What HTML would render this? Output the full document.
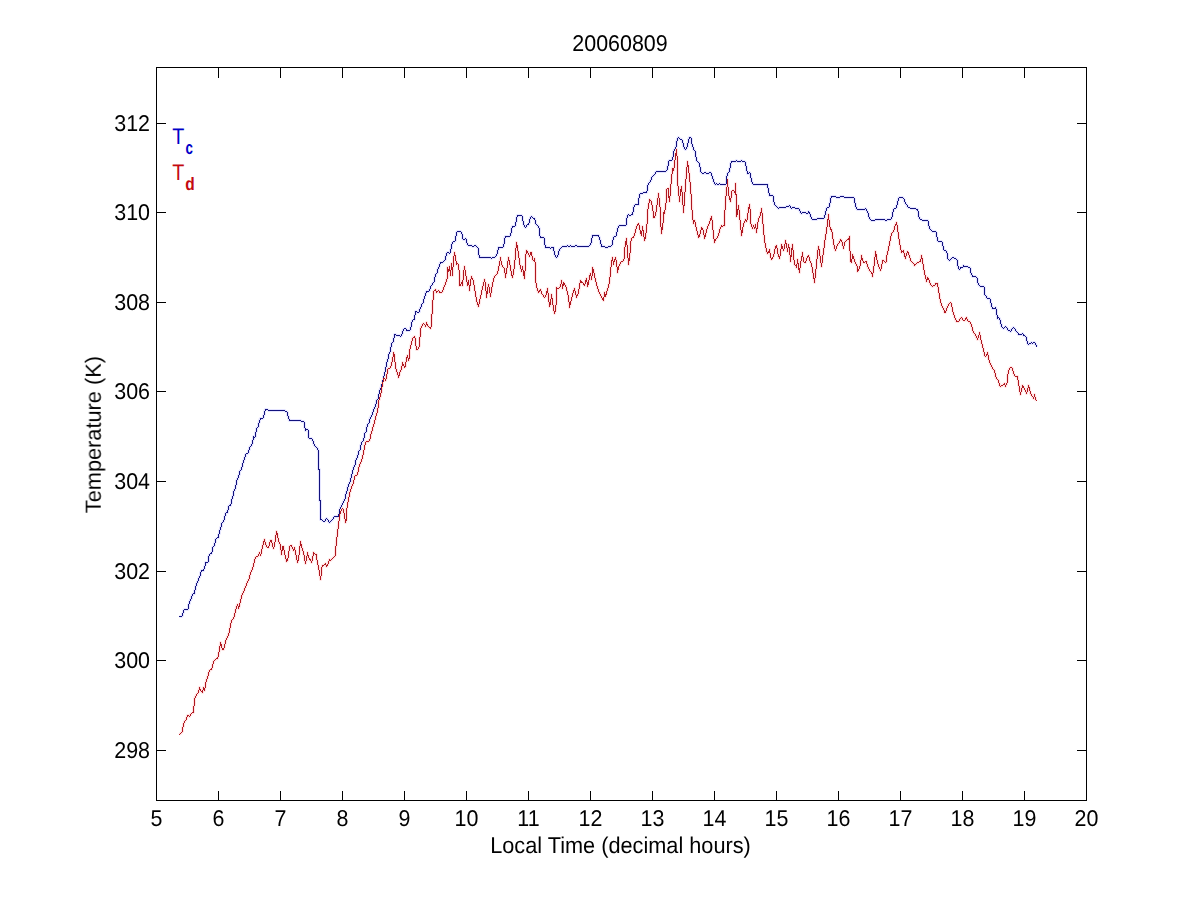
<!DOCTYPE html>
<html><head><meta charset="utf-8"><style>html,body{margin:0;padding:0;background:#fff;width:1200px;height:900px;overflow:hidden}svg{display:block}text{-webkit-font-smoothing:antialiased}</style></head>
<body><svg width="1200" height="900" viewBox="0 0 1200 900">
<rect x="0" y="0" width="1200" height="900" fill="#fff"/>
<g stroke="#000" stroke-width="1" shape-rendering="crispEdges" fill="none">
<path d="M156.5,67.5H1086.5V800.5H156.5Z"/>
</g>
<g fill="#000" shape-rendering="crispEdges">
<rect x="156" y="791" width="1" height="10"/><rect x="156" y="67" width="1" height="11"/>
<rect x="218" y="791" width="1" height="10"/><rect x="218" y="67" width="1" height="11"/>
<rect x="280" y="791" width="1" height="10"/><rect x="280" y="67" width="1" height="11"/>
<rect x="342" y="791" width="1" height="10"/><rect x="342" y="67" width="1" height="11"/>
<rect x="404" y="791" width="1" height="10"/><rect x="404" y="67" width="1" height="11"/>
<rect x="466" y="791" width="1" height="10"/><rect x="466" y="67" width="1" height="11"/>
<rect x="528" y="791" width="1" height="10"/><rect x="528" y="67" width="1" height="11"/>
<rect x="590" y="791" width="1" height="10"/><rect x="590" y="67" width="1" height="11"/>
<rect x="652" y="791" width="1" height="10"/><rect x="652" y="67" width="1" height="11"/>
<rect x="714" y="791" width="1" height="10"/><rect x="714" y="67" width="1" height="11"/>
<rect x="776" y="791" width="1" height="10"/><rect x="776" y="67" width="1" height="11"/>
<rect x="838" y="791" width="1" height="10"/><rect x="838" y="67" width="1" height="11"/>
<rect x="900" y="791" width="1" height="10"/><rect x="900" y="67" width="1" height="11"/>
<rect x="962" y="791" width="1" height="10"/><rect x="962" y="67" width="1" height="11"/>
<rect x="1024" y="791" width="1" height="10"/><rect x="1024" y="67" width="1" height="11"/>
<rect x="1086" y="791" width="1" height="10"/><rect x="1086" y="67" width="1" height="11"/>
<rect x="156" y="750" width="10" height="1"/><rect x="1077" y="750" width="10" height="1"/>
<rect x="156" y="660" width="10" height="1"/><rect x="1077" y="660" width="10" height="1"/>
<rect x="156" y="571" width="10" height="1"/><rect x="1077" y="571" width="10" height="1"/>
<rect x="156" y="481" width="10" height="1"/><rect x="1077" y="481" width="10" height="1"/>
<rect x="156" y="391" width="10" height="1"/><rect x="1077" y="391" width="10" height="1"/>
<rect x="156" y="302" width="10" height="1"/><rect x="1077" y="302" width="10" height="1"/>
<rect x="156" y="212" width="10" height="1"/><rect x="1077" y="212" width="10" height="1"/>
<rect x="156" y="123" width="10" height="1"/><rect x="1077" y="123" width="10" height="1"/>
</g>
<g fill="none" stroke-width="3" stroke-linejoin="round" opacity="0.12">
<polyline stroke="#3030ff" points="179.5,616.5 181.5,616.5 182.5,615.5 182.5,613.5 183.5,612.5 183.5,610.5 184.5,609.5 187.5,609.5 188.5,608.5 188.5,606.5 188.5,604.5 189.5,603.5 189.5,601.5 190.5,600.5 190.5,599.5 191.5,598.5 191.5,596.5 192.5,595.5 192.5,594.5 193.5,593.5 194.5,593.5 194.5,590.5 195.5,589.5 195.5,586.5 196.5,585.5 196.5,583.5 197.5,582.5 197.5,581.5 198.5,580.5 198.5,578.5 199.5,577.5 199.5,576.5 200.5,575.5 200.5,572.5 201.5,571.5 201.5,570.5 203.5,570.5 203.5,569.5 204.5,568.5 204.5,566.5 205.5,564.5 205.5,562.5 207.5,562.5 208.5,561.5 208.5,556.5 209.5,555.5 209.5,554.5 211.5,553.5 211.5,552.5 212.5,550.5 212.5,547.5 213.5,546.5 214.5,545.5 214.5,543.5 215.5,541.5 215.5,539.5 216.5,538.5 218.5,537.5 218.5,534.5 219.5,533.5 219.5,530.5 220.5,529.5 220.5,527.5 221.5,526.5 221.5,523.5 222.5,522.5 223.5,521.5 223.5,520.5 224.5,519.5 224.5,516.5 225.5,515.5 225.5,513.5 226.5,512.5 227.5,512.5 227.5,510.5 228.5,509.5 228.5,506.5 229.5,505.5 230.5,505.5 230.5,504.5 231.5,502.5 231.5,499.5 232.5,498.5 232.5,496.5 233.5,495.5 233.5,491.5 234.5,490.5 234.5,489.5 235.5,488.5 235.5,485.5 236.5,484.5 236.5,480.5 237.5,479.5 237.5,478.5 238.5,477.5 238.5,475.5 239.5,474.5 239.5,471.5 240.5,470.5 241.5,469.5 241.5,467.5 242.5,466.5 242.5,463.5 243.5,462.5 243.5,460.5 244.5,459.5 244.5,457.5 245.5,456.5 245.5,454.5 247.5,453.5 248.5,452.5 248.5,450.5 249.5,449.5 249.5,447.5 250.5,446.5 251.5,445.5 251.5,444.5 252.5,443.5 252.5,440.5 253.5,439.5 253.5,436.5 254.5,437.5 255.5,436.5 255.5,432.5 256.5,431.5 256.5,428.5 257.5,427.5 258.5,426.5 258.5,423.5 259.5,421.5 259.5,420.5 260.5,418.5 262.5,418.5 263.5,417.5 263.5,415.5 264.5,414.5 264.5,411.5 265.5,409.5 267.5,409.5 268.5,410.5 284.5,410.5 285.5,411.5 286.5,411.5 287.5,412.5 287.5,415.5 288.5,416.5 288.5,418.5 289.5,420.5 300.5,420.5 301.5,421.5 303.5,421.5 304.5,423.5 304.5,427.5 305.5,428.5 305.5,430.5 306.5,429.5 307.5,429.5 308.5,431.5 308.5,437.5 309.5,438.5 311.5,438.5 312.5,440.5 313.5,441.5 313.5,443.5 314.5,445.5 315.5,446.5 316.5,447.5 317.5,448.5 318.5,451.5 318.5,469.5 319.5,469.5 319.5,500.5 320.5,500.5 320.5,519.5 321.5,519.5 322.5,520.5 324.5,521.5 326.5,518.5 329.5,522.5 332.5,519.5 334.5,516.5 338.5,516.5 339.5,510.5 341.5,505.5 343.5,501.5 344.5,499.5 345.5,497.5 345.5,494.5 346.5,493.5 346.5,491.5 347.5,490.5 347.5,487.5 348.5,485.5 348.5,484.5 349.5,483.5 349.5,482.5 350.5,481.5 350.5,478.5 351.5,477.5 351.5,474.5 352.5,473.5 352.5,470.5 353.5,469.5 353.5,467.5 354.5,466.5 354.5,465.5 355.5,464.5 355.5,460.5 356.5,459.5 356.5,458.5 357.5,457.5 357.5,455.5 358.5,453.5 358.5,451.5 359.5,450.5 360.5,448.5 360.5,445.5 361.5,444.5 361.5,442.5 362.5,441.5 363.5,440.5 363.5,438.5 364.5,437.5 364.5,433.5 365.5,432.5 366.5,430.5 366.5,427.5 367.5,425.5 367.5,424.5 368.5,423.5 369.5,421.5 369.5,419.5 370.5,417.5 371.5,415.5 372.5,414.5 372.5,412.5 373.5,410.5 373.5,409.5 374.5,408.5 374.5,407.5 375.5,406.5 375.5,404.5 376.5,402.5 376.5,400.5 377.5,399.5 378.5,397.5 378.5,394.5 379.5,393.5 379.5,390.5 380.5,389.5 380.5,388.5 381.5,386.5 381.5,384.5 382.5,383.5 382.5,380.5 383.5,379.5 383.5,376.5 384.5,375.5 384.5,372.5 385.5,371.5 385.5,367.5 386.5,366.5 386.5,362.5 387.5,361.5 387.5,359.5 388.5,358.5 388.5,354.5 389.5,353.5 389.5,352.5 390.5,351.5 390.5,347.5 391.5,346.5 391.5,343.5 392.5,342.5 393.5,341.5 393.5,338.5 394.5,336.5 394.5,334.5 395.5,334.5 397.5,335.5 399.5,335.5 400.5,336.5 401.5,335.5 401.5,334.5 402.5,333.5 402.5,331.5 403.5,329.5 405.5,328.5 406.5,330.5 409.5,330.5 410.5,329.5 410.5,327.5 411.5,325.5 411.5,322.5 412.5,320.5 414.5,319.5 414.5,315.5 415.5,314.5 415.5,311.5 416.5,311.5 418.5,312.5 419.5,311.5 419.5,309.5 420.5,308.5 420.5,307.5 421.5,306.5 421.5,304.5 422.5,303.5 423.5,302.5 423.5,299.5 424.5,298.5 424.5,296.5 425.5,295.5 425.5,293.5 426.5,291.5 428.5,291.5 429.5,290.5 429.5,289.5 430.5,288.5 430.5,286.5 431.5,285.5 432.5,284.5 432.5,283.5 433.5,282.5 434.5,280.5 434.5,277.5 435.5,276.5 435.5,274.5 436.5,273.5 437.5,272.5 437.5,269.5 438.5,268.5 439.5,264.5 440.5,262.5 442.5,262.5 443.5,261.5 444.5,260.5 445.5,259.5 445.5,256.5 446.5,255.5 446.5,253.5 447.5,252.5 448.5,252.5 449.5,253.5 450.5,251.5 450.5,249.5 451.5,248.5 451.5,244.5 452.5,243.5 452.5,242.5 454.5,241.5 455.5,240.5 455.5,236.5 456.5,235.5 456.5,232.5 457.5,231.5 460.5,231.5 461.5,232.5 461.5,233.5 462.5,235.5 462.5,238.5 463.5,239.5 464.5,239.5 465.5,238.5 466.5,240.5 466.5,242.5 467.5,243.5 467.5,244.5 468.5,245.5 471.5,245.5 472.5,246.5 473.5,246.5 475.5,245.5 476.5,246.5 477.5,247.5 478.5,249.5 478.5,254.5 479.5,256.5 479.5,257.5 480.5,257.5 482.5,257.5 483.5,257.5 490.5,257.5 491.5,258.5 492.5,257.5 494.5,257.5 495.5,256.5 496.5,254.5 497.5,253.5 497.5,250.5 498.5,249.5 498.5,247.5 502.5,247.5 503.5,246.5 503.5,244.5 504.5,242.5 504.5,238.5 505.5,236.5 509.5,236.5 510.5,235.5 510.5,233.5 511.5,232.5 511.5,228.5 512.5,226.5 514.5,226.5 515.5,225.5 515.5,222.5 516.5,221.5 516.5,218.5 517.5,215.5 521.5,215.5 522.5,217.5 522.5,220.5 523.5,221.5 523.5,224.5 524.5,225.5 524.5,226.5 525.5,227.5 526.5,226.5 526.5,225.5 528.5,224.5 528.5,223.5 529.5,222.5 529.5,219.5 530.5,218.5 530.5,217.5 531.5,216.5 532.5,217.5 534.5,218.5 535.5,221.5 535.5,223.5 536.5,224.5 537.5,225.5 538.5,226.5 538.5,227.5 539.5,228.5 539.5,235.5 540.5,236.5 540.5,237.5 543.5,237.5 544.5,239.5 544.5,244.5 545.5,245.5 545.5,247.5 546.5,247.5 547.5,247.5 548.5,247.5 549.5,247.5 550.5,248.5 551.5,247.5 553.5,247.5 553.5,248.5 553.5,250.5 554.5,251.5 554.5,254.5 555.5,255.5 555.5,256.5 556.5,257.5 557.5,256.5 557.5,255.5 558.5,254.5 558.5,251.5 559.5,250.5 559.5,249.5 560.5,248.5 561.5,247.5 562.5,246.5 566.5,246.5 567.5,245.5 568.5,246.5 569.5,246.5 570.5,245.5 571.5,246.5 574.5,246.5 575.5,245.5 576.5,245.5 577.5,246.5 588.5,246.5 589.5,245.5 590.5,244.5 590.5,243.5 591.5,242.5 591.5,239.5 592.5,235.5 597.5,235.5 598.5,235.5 598.5,236.5 599.5,237.5 599.5,239.5 600.5,240.5 600.5,243.5 601.5,244.5 601.5,246.5 604.5,246.5 605.5,247.5 607.5,247.5 608.5,246.5 610.5,246.5 611.5,245.5 612.5,243.5 612.5,240.5 613.5,238.5 613.5,237.5 614.5,236.5 615.5,236.5 616.5,234.5 616.5,232.5 617.5,230.5 617.5,228.5 618.5,227.5 618.5,226.5 619.5,225.5 625.5,225.5 626.5,224.5 626.5,218.5 627.5,216.5 627.5,215.5 628.5,214.5 629.5,215.5 630.5,215.5 631.5,214.5 632.5,214.5 632.5,212.5 633.5,211.5 633.5,207.5 634.5,205.5 635.5,204.5 638.5,204.5 638.5,198.5 639.5,197.5 639.5,194.5 640.5,193.5 642.5,193.5 643.5,192.5 646.5,192.5 647.5,189.5 647.5,185.5 648.5,184.5 648.5,183.5 649.5,182.5 650.5,180.5 651.5,179.5 651.5,177.5 652.5,176.5 654.5,174.5 655.5,172.5 656.5,171.5 665.5,171.5 666.5,170.5 667.5,168.5 667.5,166.5 668.5,164.5 668.5,161.5 669.5,160.5 671.5,160.5 672.5,159.5 672.5,157.5 673.5,155.5 673.5,151.5 674.5,149.5 675.5,148.5 675.5,147.5 676.5,145.5 676.5,141.5 677.5,139.5 677.5,138.5 678.5,137.5 679.5,138.5 681.5,139.5 682.5,141.5 682.5,142.5 683.5,144.5 683.5,146.5 684.5,147.5 684.5,148.5 685.5,149.5 686.5,148.5 686.5,147.5 687.5,146.5 687.5,143.5 688.5,142.5 688.5,139.5 689.5,137.5 690.5,137.5 691.5,139.5 691.5,143.5 692.5,145.5 692.5,146.5 693.5,148.5 693.5,149.5 694.5,150.5 695.5,152.5 695.5,156.5 696.5,158.5 696.5,160.5 697.5,161.5 698.5,162.5 699.5,163.5 699.5,166.5 700.5,167.5 700.5,171.5 701.5,172.5 702.5,173.5 703.5,173.5 705.5,172.5 706.5,173.5 708.5,173.5 709.5,172.5 710.5,172.5 711.5,174.5 711.5,175.5 712.5,176.5 712.5,178.5 713.5,179.5 713.5,181.5 714.5,182.5 714.5,183.5 715.5,184.5 716.5,183.5 717.5,184.5 718.5,184.5 719.5,183.5 720.5,184.5 725.5,184.5 726.5,183.5 726.5,176.5 727.5,175.5 727.5,173.5 728.5,172.5 729.5,171.5 729.5,168.5 730.5,167.5 730.5,163.5 731.5,162.5 731.5,161.5 735.5,161.5 736.5,160.5 737.5,161.5 740.5,161.5 741.5,160.5 742.5,161.5 744.5,161.5 745.5,162.5 745.5,165.5 746.5,166.5 746.5,170.5 747.5,171.5 747.5,173.5 748.5,173.5 749.5,172.5 750.5,174.5 750.5,177.5 751.5,178.5 751.5,181.5 752.5,182.5 752.5,183.5 753.5,184.5 763.5,184.5 767.5,184.5 767.5,187.5 768.5,188.5 768.5,192.5 769.5,194.5 769.5,195.5 772.5,195.5 773.5,197.5 773.5,201.5 774.5,203.5 774.5,204.5 775.5,205.5 776.5,206.5 777.5,207.5 778.5,208.5 779.5,207.5 785.5,207.5 786.5,206.5 788.5,206.5 789.5,205.5 790.5,207.5 791.5,208.5 792.5,207.5 794.5,207.5 795.5,208.5 798.5,208.5 799.5,210.5 800.5,211.5 800.5,212.5 801.5,213.5 802.5,212.5 805.5,212.5 806.5,213.5 807.5,213.5 808.5,211.5 809.5,213.5 810.5,215.5 810.5,216.5 811.5,217.5 811.5,218.5 812.5,219.5 816.5,219.5 817.5,218.5 823.5,218.5 824.5,217.5 824.5,215.5 825.5,214.5 825.5,211.5 826.5,209.5 826.5,208.5 827.5,207.5 828.5,207.5 829.5,205.5 829.5,203.5 830.5,202.5 830.5,198.5 831.5,196.5 832.5,196.5 835.5,196.5 836.5,197.5 839.5,197.5 840.5,196.5 843.5,196.5 844.5,197.5 853.5,197.5 854.5,199.5 854.5,202.5 855.5,203.5 855.5,206.5 856.5,207.5 856.5,208.5 857.5,209.5 864.5,209.5 865.5,208.5 866.5,210.5 867.5,211.5 867.5,212.5 868.5,213.5 868.5,216.5 869.5,217.5 869.5,218.5 870.5,219.5 871.5,220.5 874.5,220.5 875.5,219.5 884.5,219.5 885.5,220.5 886.5,220.5 887.5,219.5 890.5,219.5 891.5,218.5 891.5,217.5 892.5,215.5 892.5,212.5 893.5,210.5 893.5,209.5 894.5,208.5 895.5,208.5 896.5,207.5 896.5,205.5 897.5,204.5 897.5,201.5 898.5,199.5 898.5,198.5 899.5,197.5 900.5,197.5 901.5,197.5 902.5,197.5 903.5,198.5 904.5,200.5 904.5,201.5 905.5,203.5 906.5,204.5 907.5,206.5 908.5,207.5 909.5,207.5 911.5,208.5 915.5,208.5 916.5,209.5 917.5,209.5 918.5,213.5 918.5,216.5 919.5,217.5 919.5,218.5 920.5,219.5 921.5,219.5 922.5,220.5 927.5,220.5 928.5,222.5 928.5,225.5 929.5,227.5 929.5,228.5 930.5,229.5 931.5,230.5 932.5,231.5 935.5,231.5 936.5,233.5 936.5,236.5 937.5,238.5 937.5,240.5 938.5,241.5 941.5,241.5 942.5,243.5 942.5,245.5 943.5,247.5 943.5,249.5 944.5,250.5 945.5,250.5 946.5,251.5 946.5,252.5 947.5,254.5 947.5,258.5 948.5,259.5 949.5,260.5 950.5,259.5 951.5,258.5 953.5,257.5 955.5,258.5 956.5,259.5 957.5,260.5 957.5,265.5 958.5,267.5 958.5,268.5 959.5,269.5 960.5,267.5 962.5,267.5 963.5,265.5 964.5,266.5 967.5,266.5 968.5,267.5 969.5,267.5 970.5,268.5 970.5,272.5 971.5,273.5 971.5,274.5 972.5,276.5 975.5,276.5 976.5,277.5 977.5,279.5 977.5,282.5 978.5,283.5 978.5,284.5 979.5,285.5 980.5,286.5 983.5,286.5 984.5,288.5 984.5,294.5 985.5,295.5 986.5,296.5 986.5,297.5 987.5,298.5 989.5,298.5 990.5,300.5 990.5,302.5 991.5,304.5 991.5,306.5 992.5,307.5 992.5,308.5 994.5,308.5 995.5,307.5 996.5,310.5 996.5,314.5 997.5,316.5 997.5,318.5 998.5,317.5 999.5,318.5 999.5,319.5 1000.5,320.5 1000.5,323.5 1001.5,324.5 1001.5,326.5 1002.5,327.5 1003.5,328.5 1004.5,327.5 1005.5,326.5 1006.5,327.5 1007.5,329.5 1008.5,330.5 1009.5,330.5 1010.5,331.5 1011.5,329.5 1012.5,328.5 1013.5,327.5 1014.5,328.5 1015.5,330.5 1016.5,331.5 1017.5,332.5 1018.5,334.5 1021.5,334.5 1022.5,333.5 1023.5,335.5 1024.5,335.5 1025.5,336.5 1026.5,337.5 1026.5,340.5 1027.5,341.5 1027.5,343.5 1028.5,344.5 1029.5,343.5 1030.5,343.5 1031.5,342.5 1032.5,343.5 1033.5,342.5 1034.5,342.5 1035.5,344.5 1036.5,345.5 1036.5,346.5"/>
<polyline stroke="#ff2020" points="179.5,734.5 181.5,732.5 182.5,731.5 182.5,727.5 183.5,726.5 183.5,724.5 184.5,721.5 185.5,720.5 186.5,718.5 187.5,715.5 188.5,715.5 189.5,716.5 190.5,714.5 191.5,713.5 193.5,712.5 193.5,707.5 194.5,703.5 194.5,698.5 195.5,696.5 196.5,694.5 197.5,693.5 198.5,691.5 199.5,687.5 200.5,690.5 201.5,691.5 202.5,692.5 203.5,687.5 204.5,690.5 205.5,684.5 206.5,679.5 207.5,677.5 208.5,673.5 209.5,670.5 211.5,669.5 212.5,665.5 213.5,661.5 215.5,659.5 217.5,658.5 218.5,654.5 219.5,648.5 220.5,642.5 221.5,646.5 222.5,649.5 223.5,649.5 224.5,646.5 225.5,641.5 227.5,636.5 228.5,634.5 229.5,630.5 230.5,625.5 231.5,620.5 233.5,618.5 234.5,615.5 235.5,610.5 236.5,606.5 237.5,604.5 238.5,608.5 239.5,605.5 240.5,600.5 241.5,596.5 243.5,591.5 244.5,589.5 245.5,586.5 246.5,584.5 247.5,581.5 249.5,578.5 249.5,576.5 250.5,572.5 252.5,568.5 253.5,565.5 254.5,560.5 255.5,557.5 257.5,556.5 258.5,555.5 259.5,552.5 260.5,555.5 261.5,551.5 262.5,546.5 263.5,542.5 264.5,539.5 265.5,544.5 266.5,546.5 268.5,547.5 269.5,543.5 270.5,540.5 271.5,540.5 272.5,545.5 273.5,548.5 274.5,544.5 275.5,538.5 276.5,531.5 277.5,535.5 278.5,541.5 280.5,545.5 281.5,554.5 282.5,546.5 283.5,546.5 284.5,553.5 285.5,556.5 286.5,561.5 287.5,560.5 288.5,555.5 289.5,546.5 291.5,545.5 292.5,548.5 293.5,550.5 294.5,547.5 295.5,552.5 296.5,558.5 297.5,562.5 298.5,558.5 299.5,550.5 300.5,541.5 301.5,546.5 302.5,549.5 303.5,552.5 304.5,558.5 305.5,563.5 306.5,558.5 307.5,552.5 308.5,557.5 309.5,559.5 310.5,559.5 311.5,562.5 312.5,558.5 313.5,552.5 314.5,553.5 316.5,554.5 316.5,558.5 317.5,562.5 318.5,567.5 319.5,572.5 320.5,579.5 321.5,572.5 321.5,568.5 322.5,565.5 323.5,565.5 325.5,563.5 326.5,566.5 327.5,564.5 328.5,562.5 329.5,559.5 330.5,560.5 331.5,559.5 333.5,557.5 334.5,556.5 335.5,554.5 335.5,550.5 336.5,540.5 337.5,532.5 338.5,524.5 339.5,516.5 340.5,511.5 341.5,509.5 342.5,508.5 343.5,510.5 344.5,516.5 345.5,522.5 346.5,518.5 346.5,510.5 347.5,504.5 348.5,499.5 348.5,498.5 348.5,497.5 349.5,496.5 349.5,492.5 350.5,491.5 350.5,489.5 351.5,487.5 351.5,486.5 352.5,485.5 352.5,484.5 353.5,482.5 353.5,480.5 354.5,478.5 354.5,476.5 355.5,475.5 356.5,475.5 357.5,473.5 357.5,472.5 358.5,470.5 358.5,467.5 359.5,466.5 359.5,464.5 360.5,463.5 360.5,462.5 361.5,460.5 361.5,459.5 362.5,458.5 362.5,455.5 363.5,453.5 363.5,450.5 364.5,448.5 364.5,445.5 365.5,443.5 365.5,442.5 366.5,441.5 368.5,441.5 369.5,440.5 369.5,439.5 370.5,437.5 370.5,434.5 371.5,433.5 371.5,431.5 372.5,430.5 372.5,427.5 373.5,426.5 373.5,424.5 374.5,423.5 374.5,420.5 375.5,419.5 375.5,417.5 376.5,413.5 377.5,411.5 377.5,408.5 378.5,407.5 378.5,400.5 379.5,399.5 379.5,397.5 380.5,396.5 380.5,393.5 381.5,392.5 381.5,387.5 382.5,385.5 382.5,382.5 383.5,380.5 383.5,378.5 384.5,378.5 385.5,379.5 385.5,380.5 386.5,377.5 386.5,374.5 387.5,372.5 387.5,369.5 388.5,368.5 389.5,368.5 390.5,367.5 390.5,366.5 391.5,365.5 391.5,362.5 392.5,361.5 392.5,357.5 393.5,356.5 393.5,352.5 394.5,356.5 394.5,361.5 395.5,363.5 395.5,368.5 396.5,369.5 396.5,371.5 397.5,372.5 397.5,374.5 398.5,375.5 398.5,377.5 399.5,373.5 399.5,372.5 400.5,371.5 400.5,370.5 401.5,369.5 401.5,366.5 402.5,364.5 402.5,362.5 403.5,365.5 404.5,367.5 405.5,366.5 405.5,362.5 406.5,361.5 406.5,358.5 407.5,355.5 408.5,360.5 409.5,357.5 409.5,350.5 410.5,347.5 411.5,342.5 412.5,338.5 413.5,337.5 414.5,336.5 415.5,339.5 415.5,343.5 416.5,349.5 417.5,349.5 418.5,347.5 419.5,345.5 419.5,339.5 420.5,334.5 420.5,333.5 420.5,328.5 421.5,326.5 422.5,324.5 423.5,323.5 424.5,324.5 425.5,326.5 426.5,322.5 427.5,325.5 428.5,326.5 429.5,327.5 430.5,328.5 431.5,324.5 431.5,314.5 432.5,313.5 432.5,300.5 433.5,298.5 433.5,291.5 434.5,290.5 435.5,289.5 436.5,292.5 437.5,291.5 438.5,290.5 439.5,292.5 440.5,292.5 441.5,292.5 442.5,291.5 443.5,288.5 444.5,285.5 445.5,283.5 446.5,280.5 446.5,279.5 447.5,277.5 447.5,271.5 447.5,267.5 448.5,271.5 449.5,266.5 450.5,275.5 451.5,263.5 452.5,275.5 453.5,258.5 454.5,252.5 455.5,258.5 456.5,264.5 457.5,263.5 458.5,265.5 459.5,275.5 459.5,285.5 460.5,285.5 461.5,282.5 462.5,285.5 463.5,273.5 464.5,266.5 465.5,273.5 466.5,278.5 467.5,285.5 468.5,280.5 469.5,290.5 470.5,280.5 471.5,276.5 472.5,279.5 473.5,280.5 474.5,289.5 475.5,293.5 476.5,300.5 477.5,304.5 478.5,306.5 479.5,301.5 480.5,296.5 481.5,292.5 482.5,287.5 483.5,283.5 484.5,279.5 485.5,284.5 486.5,297.5 487.5,289.5 488.5,284.5 489.5,290.5 490.5,296.5 491.5,289.5 492.5,283.5 493.5,279.5 494.5,276.5 496.5,274.5 497.5,272.5 498.5,268.5 499.5,263.5 500.5,257.5 501.5,264.5 502.5,266.5 504.5,268.5 505.5,277.5 506.5,270.5 507.5,264.5 508.5,257.5 509.5,262.5 510.5,268.5 511.5,274.5 512.5,277.5 513.5,271.5 514.5,265.5 515.5,253.5 516.5,242.5 517.5,248.5 518.5,254.5 519.5,262.5 521.5,271.5 522.5,266.5 523.5,273.5 524.5,278.5 525.5,263.5 525.5,256.5 526.5,250.5 527.5,251.5 528.5,254.5 529.5,256.5 530.5,252.5 531.5,252.5 532.5,259.5 533.5,260.5 534.5,258.5 535.5,265.5 535.5,279.5 536.5,286.5 537.5,290.5 538.5,292.5 540.5,289.5 541.5,293.5 542.5,294.5 544.5,297.5 545.5,296.5 546.5,292.5 547.5,288.5 548.5,297.5 549.5,306.5 550.5,302.5 551.5,294.5 552.5,301.5 553.5,309.5 554.5,313.5 555.5,309.5 556.5,299.5 556.5,287.5 558.5,288.5 560.5,286.5 561.5,280.5 562.5,288.5 563.5,282.5 564.5,284.5 565.5,285.5 566.5,288.5 568.5,297.5 569.5,307.5 570.5,302.5 571.5,298.5 572.5,294.5 574.5,288.5 575.5,293.5 576.5,297.5 578.5,292.5 579.5,285.5 580.5,280.5 581.5,282.5 582.5,282.5 584.5,285.5 585.5,281.5 586.5,278.5 587.5,286.5 588.5,282.5 589.5,276.5 590.5,273.5 591.5,279.5 592.5,272.5 592.5,267.5 593.5,270.5 594.5,275.5 596.5,284.5 597.5,287.5 598.5,291.5 600.5,294.5 601.5,297.5 603.5,300.5 604.5,292.5 605.5,296.5 606.5,292.5 607.5,289.5 608.5,286.5 609.5,281.5 610.5,272.5 611.5,261.5 612.5,257.5 613.5,264.5 614.5,259.5 615.5,257.5 616.5,262.5 617.5,272.5 618.5,266.5 619.5,265.5 620.5,262.5 622.5,261.5 623.5,260.5 624.5,257.5 624.5,249.5 626.5,238.5 627.5,252.5 628.5,264.5 629.5,257.5 630.5,248.5 630.5,243.5 631.5,238.5 633.5,237.5 634.5,234.5 635.5,230.5 636.5,226.5 638.5,223.5 639.5,227.5 640.5,232.5 641.5,235.5 642.5,226.5 643.5,233.5 644.5,240.5 645.5,237.5 646.5,228.5 647.5,218.5 647.5,211.5 648.5,205.5 649.5,199.5 650.5,200.5 651.5,202.5 652.5,207.5 653.5,215.5 653.5,217.5 654.5,217.5 655.5,214.5 656.5,208.5 657.5,201.5 658.5,193.5 659.5,202.5 660.5,211.5 660.5,220.5 661.5,233.5 662.5,226.5 663.5,218.5 663.5,212.5 664.5,213.5 665.5,206.5 666.5,198.5 666.5,189.5 668.5,188.5 668.5,195.5 669.5,201.5 670.5,189.5 671.5,178.5 672.5,168.5 673.5,170.5 674.5,164.5 675.5,155.5 676.5,149.5 677.5,163.5 677.5,182.5 678.5,190.5 679.5,201.5 680.5,190.5 681.5,186.5 682.5,198.5 683.5,212.5 684.5,198.5 685.5,184.5 686.5,172.5 687.5,161.5 688.5,168.5 689.5,178.5 690.5,186.5 691.5,202.5 692.5,217.5 693.5,223.5 694.5,220.5 695.5,224.5 696.5,229.5 697.5,233.5 698.5,237.5 699.5,236.5 701.5,227.5 702.5,228.5 703.5,231.5 704.5,238.5 705.5,234.5 706.5,230.5 707.5,227.5 709.5,222.5 710.5,219.5 711.5,216.5 712.5,224.5 713.5,235.5 714.5,242.5 715.5,239.5 717.5,237.5 718.5,234.5 719.5,230.5 720.5,227.5 721.5,225.5 722.5,226.5 724.5,225.5 724.5,216.5 725.5,202.5 726.5,188.5 727.5,184.5 727.5,179.5 728.5,194.5 729.5,198.5 730.5,201.5 731.5,194.5 731.5,191.5 733.5,190.5 734.5,192.5 735.5,194.5 735.5,183.5 736.5,205.5 736.5,216.5 737.5,212.5 738.5,205.5 739.5,215.5 740.5,224.5 741.5,235.5 742.5,229.5 743.5,224.5 745.5,219.5 746.5,221.5 747.5,217.5 748.5,208.5 749.5,204.5 750.5,214.5 750.5,222.5 752.5,228.5 753.5,225.5 754.5,228.5 755.5,224.5 756.5,232.5 757.5,224.5 758.5,218.5 759.5,217.5 760.5,214.5 761.5,208.5 762.5,218.5 763.5,230.5 764.5,240.5 765.5,245.5 766.5,251.5 767.5,253.5 769.5,249.5 770.5,256.5 771.5,259.5 773.5,256.5 774.5,251.5 775.5,246.5 776.5,245.5 777.5,251.5 778.5,256.5 779.5,258.5 780.5,252.5 781.5,244.5 782.5,248.5 783.5,250.5 784.5,246.5 785.5,240.5 786.5,245.5 787.5,251.5 788.5,244.5 789.5,249.5 790.5,261.5 791.5,251.5 792.5,244.5 793.5,256.5 794.5,264.5 795.5,265.5 796.5,267.5 797.5,259.5 798.5,267.5 799.5,272.5 800.5,262.5 801.5,259.5 802.5,252.5 803.5,261.5 805.5,262.5 806.5,258.5 808.5,255.5 809.5,259.5 811.5,264.5 812.5,269.5 813.5,276.5 814.5,282.5 815.5,273.5 816.5,264.5 817.5,252.5 818.5,246.5 819.5,251.5 820.5,260.5 821.5,266.5 822.5,258.5 823.5,251.5 824.5,243.5 825.5,236.5 826.5,230.5 827.5,223.5 828.5,214.5 829.5,225.5 830.5,229.5 831.5,229.5 832.5,235.5 833.5,242.5 834.5,248.5 835.5,250.5 836.5,246.5 838.5,243.5 840.5,239.5 841.5,240.5 843.5,248.5 844.5,242.5 846.5,240.5 848.5,239.5 849.5,236.5 849.5,247.5 850.5,255.5 850.5,261.5 851.5,262.5 852.5,254.5 853.5,257.5 854.5,260.5 855.5,263.5 856.5,264.5 857.5,268.5 857.5,271.5 859.5,267.5 860.5,263.5 861.5,255.5 862.5,260.5 863.5,262.5 864.5,262.5 866.5,261.5 867.5,266.5 868.5,268.5 869.5,270.5 871.5,272.5 872.5,276.5 873.5,269.5 874.5,261.5 875.5,251.5 876.5,257.5 877.5,262.5 878.5,265.5 879.5,268.5 880.5,270.5 881.5,266.5 882.5,260.5 883.5,260.5 885.5,262.5 886.5,261.5 886.5,257.5 887.5,252.5 888.5,248.5 889.5,243.5 890.5,238.5 891.5,233.5 893.5,231.5 894.5,227.5 895.5,224.5 896.5,222.5 897.5,228.5 898.5,235.5 899.5,242.5 900.5,248.5 901.5,252.5 902.5,251.5 903.5,250.5 904.5,255.5 905.5,258.5 906.5,253.5 907.5,251.5 908.5,253.5 909.5,256.5 910.5,260.5 912.5,262.5 913.5,263.5 914.5,265.5 915.5,264.5 917.5,262.5 918.5,262.5 920.5,261.5 921.5,255.5 922.5,261.5 923.5,266.5 923.5,267.5 924.5,273.5 925.5,276.5 926.5,281.5 927.5,277.5 929.5,281.5 930.5,284.5 932.5,286.5 934.5,285.5 935.5,283.5 937.5,283.5 938.5,290.5 939.5,296.5 940.5,301.5 941.5,305.5 943.5,308.5 944.5,312.5 945.5,312.5 946.5,308.5 948.5,304.5 949.5,303.5 950.5,302.5 951.5,304.5 952.5,310.5 953.5,313.5 954.5,316.5 955.5,319.5 956.5,321.5 958.5,321.5 959.5,319.5 961.5,317.5 962.5,319.5 964.5,320.5 966.5,317.5 967.5,320.5 969.5,321.5 971.5,325.5 972.5,329.5 973.5,332.5 974.5,333.5 975.5,335.5 977.5,339.5 978.5,335.5 979.5,334.5 979.5,332.5 980.5,338.5 981.5,342.5 983.5,349.5 984.5,355.5 985.5,356.5 987.5,352.5 988.5,358.5 989.5,361.5 991.5,366.5 992.5,368.5 994.5,370.5 995.5,376.5 996.5,378.5 998.5,380.5 999.5,385.5 1000.5,386.5 1002.5,385.5 1004.5,383.5 1005.5,386.5 1007.5,381.5 1007.5,376.5 1008.5,370.5 1010.5,367.5 1011.5,367.5 1012.5,368.5 1013.5,373.5 1014.5,375.5 1016.5,376.5 1017.5,376.5 1018.5,383.5 1019.5,389.5 1020.5,394.5 1022.5,385.5 1023.5,387.5 1025.5,390.5 1026.5,393.5 1028.5,385.5 1029.5,389.5 1030.5,393.5 1032.5,396.5 1033.5,398.5 1034.5,394.5 1035.5,399.5 1036.5,400.5"/>
</g>
<g shape-rendering="crispEdges">
<path fill="#12127e" d="M678 137h1v1h-1zM689 137h2v1h-2zM677 138h1v1h-1zM679 138h1v1h-1zM689 138h1v1h-1zM691 138h1v1h-1zM677 139h1v1h-1zM680 139h2v1h-2zM688 139h1v1h-1zM691 139h1v1h-1zM677 140h1v1h-1zM682 140h1v1h-1zM688 140h1v1h-1zM691 140h1v1h-1zM676 141h1v1h-1zM682 141h1v1h-1zM688 141h1v1h-1zM691 141h1v1h-1zM676 142h1v1h-1zM682 142h1v1h-1zM688 142h1v1h-1zM691 142h1v1h-1zM676 143h1v1h-1zM683 143h1v1h-1zM687 143h1v1h-1zM691 143h1v1h-1zM676 144h1v1h-1zM683 144h1v1h-1zM687 144h1v1h-1zM692 144h1v1h-1zM676 145h1v1h-1zM683 145h1v1h-1zM687 145h1v1h-1zM692 145h1v1h-1zM676 146h1v1h-1zM683 146h1v1h-1zM687 146h1v1h-1zM692 146h1v1h-1zM675 147h1v1h-1zM684 147h1v1h-1zM686 147h1v1h-1zM693 147h1v1h-1zM675 148h1v1h-1zM684 148h1v1h-1zM686 148h1v1h-1zM693 148h1v1h-1zM674 149h1v1h-1zM685 149h1v1h-1zM693 149h1v1h-1zM674 150h1v1h-1zM694 150h1v1h-1zM673 151h1v1h-1zM695 151h1v1h-1zM673 152h1v1h-1zM695 152h1v1h-1zM673 153h1v1h-1zM695 153h1v1h-1zM673 154h1v1h-1zM695 154h1v1h-1zM673 155h1v1h-1zM695 155h1v1h-1zM673 156h1v1h-1zM695 156h1v1h-1zM672 157h1v1h-1zM696 157h1v1h-1zM672 158h1v1h-1zM696 158h1v1h-1zM672 159h1v1h-1zM696 159h1v1h-1zM669 160h3v1h-3zM696 160h1v1h-1zM736 160h1v1h-1zM741 160h1v1h-1zM668 161h1v1h-1zM697 161h1v1h-1zM731 161h5v1h-5zM737 161h4v1h-4zM742 161h3v1h-3zM668 162h1v1h-1zM698 162h1v1h-1zM731 162h1v1h-1zM745 162h1v1h-1zM668 163h1v1h-1zM699 163h1v1h-1zM730 163h1v1h-1zM745 163h1v1h-1zM668 164h1v1h-1zM699 164h1v1h-1zM730 164h1v1h-1zM745 164h1v1h-1zM668 165h1v1h-1zM699 165h1v1h-1zM730 165h1v1h-1zM745 165h1v1h-1zM667 166h1v1h-1zM699 166h1v1h-1zM730 166h1v1h-1zM746 166h1v1h-1zM667 167h1v1h-1zM700 167h1v1h-1zM730 167h1v1h-1zM746 167h1v1h-1zM667 168h1v1h-1zM700 168h1v1h-1zM729 168h1v1h-1zM746 168h1v1h-1zM667 169h1v1h-1zM700 169h1v1h-1zM729 169h1v1h-1zM746 169h1v1h-1zM666 170h1v1h-1zM700 170h1v1h-1zM729 170h1v1h-1zM746 170h1v1h-1zM656 171h10v1h-10zM700 171h1v1h-1zM729 171h1v1h-1zM747 171h1v1h-1zM655 172h1v1h-1zM701 172h1v1h-1zM704 172h2v1h-2zM709 172h2v1h-2zM728 172h1v1h-1zM747 172h1v1h-1zM749 172h1v1h-1zM655 173h1v1h-1zM702 173h2v1h-2zM706 173h3v1h-3zM711 173h1v1h-1zM727 173h1v1h-1zM747 173h2v1h-2zM750 173h1v1h-1zM654 174h1v1h-1zM711 174h1v1h-1zM727 174h1v1h-1zM750 174h1v1h-1zM653 175h1v1h-1zM711 175h1v1h-1zM727 175h1v1h-1zM750 175h1v1h-1zM652 176h1v1h-1zM712 176h1v1h-1zM726 176h1v1h-1zM750 176h1v1h-1zM651 177h1v1h-1zM712 177h1v1h-1zM726 177h1v1h-1zM750 177h1v1h-1zM651 178h1v1h-1zM712 178h1v1h-1zM726 178h1v1h-1zM751 178h1v1h-1zM651 179h1v1h-1zM713 179h1v1h-1zM726 179h1v1h-1zM751 179h1v1h-1zM650 180h1v1h-1zM713 180h1v1h-1zM726 180h1v1h-1zM751 180h1v1h-1zM650 181h1v1h-1zM713 181h1v1h-1zM726 181h1v1h-1zM751 181h1v1h-1zM649 182h1v1h-1zM714 182h1v1h-1zM726 182h1v1h-1zM752 182h1v1h-1zM648 183h1v1h-1zM714 183h1v1h-1zM716 183h1v1h-1zM719 183h1v1h-1zM726 183h1v1h-1zM752 183h1v1h-1zM648 184h1v1h-1zM715 184h1v1h-1zM717 184h2v1h-2zM720 184h6v1h-6zM753 184h15v1h-15zM647 185h1v1h-1zM767 185h1v1h-1zM647 186h1v1h-1zM767 186h1v1h-1zM647 187h1v1h-1zM767 187h1v1h-1zM647 188h1v1h-1zM768 188h1v1h-1zM647 189h1v1h-1zM768 189h1v1h-1zM647 190h1v1h-1zM768 190h1v1h-1zM646 191h1v1h-1zM768 191h1v1h-1zM643 192h4v1h-4zM768 192h1v1h-1zM640 193h3v1h-3zM769 193h1v1h-1zM639 194h1v1h-1zM769 194h1v1h-1zM639 195h1v1h-1zM769 195h4v1h-4zM639 196h1v1h-1zM773 196h1v1h-1zM831 196h5v1h-5zM840 196h4v1h-4zM639 197h1v1h-1zM773 197h1v1h-1zM831 197h1v1h-1zM836 197h4v1h-4zM844 197h10v1h-10zM899 197h4v1h-4zM638 198h1v1h-1zM773 198h1v1h-1zM830 198h1v1h-1zM854 198h1v1h-1zM898 198h1v1h-1zM903 198h1v1h-1zM638 199h1v1h-1zM773 199h1v1h-1zM830 199h1v1h-1zM854 199h1v1h-1zM898 199h1v1h-1zM904 199h1v1h-1zM638 200h1v1h-1zM773 200h1v1h-1zM830 200h1v1h-1zM854 200h1v1h-1zM898 200h1v1h-1zM904 200h1v1h-1zM638 201h1v1h-1zM773 201h1v1h-1zM830 201h1v1h-1zM854 201h1v1h-1zM897 201h1v1h-1zM904 201h1v1h-1zM638 202h1v1h-1zM774 202h1v1h-1zM830 202h1v1h-1zM854 202h1v1h-1zM897 202h1v1h-1zM905 202h1v1h-1zM638 203h1v1h-1zM774 203h1v1h-1zM829 203h1v1h-1zM855 203h1v1h-1zM897 203h1v1h-1zM905 203h1v1h-1zM635 204h4v1h-4zM774 204h1v1h-1zM829 204h1v1h-1zM855 204h1v1h-1zM897 204h1v1h-1zM906 204h1v1h-1zM634 205h1v1h-1zM775 205h1v1h-1zM789 205h1v1h-1zM829 205h1v1h-1zM855 205h1v1h-1zM896 205h1v1h-1zM907 205h1v1h-1zM634 206h1v1h-1zM776 206h1v1h-1zM786 206h3v1h-3zM790 206h1v1h-1zM829 206h1v1h-1zM855 206h1v1h-1zM896 206h1v1h-1zM907 206h1v1h-1zM633 207h1v1h-1zM777 207h1v1h-1zM779 207h7v1h-7zM790 207h1v1h-1zM792 207h3v1h-3zM827 207h2v1h-2zM856 207h1v1h-1zM896 207h1v1h-1zM908 207h2v1h-2zM633 208h1v1h-1zM778 208h1v1h-1zM791 208h1v1h-1zM795 208h4v1h-4zM826 208h1v1h-1zM856 208h1v1h-1zM865 208h1v1h-1zM894 208h2v1h-2zM910 208h6v1h-6zM633 209h1v1h-1zM799 209h1v1h-1zM826 209h1v1h-1zM857 209h8v1h-8zM866 209h1v1h-1zM893 209h1v1h-1zM916 209h2v1h-2zM633 210h1v1h-1zM799 210h1v1h-1zM826 210h1v1h-1zM866 210h1v1h-1zM893 210h1v1h-1zM917 210h1v1h-1zM633 211h1v1h-1zM800 211h1v1h-1zM808 211h1v1h-1zM825 211h1v1h-1zM867 211h1v1h-1zM893 211h1v1h-1zM918 211h1v1h-1zM632 212h1v1h-1zM800 212h1v1h-1zM802 212h4v1h-4zM808 212h2v1h-2zM825 212h1v1h-1zM867 212h1v1h-1zM892 212h1v1h-1zM918 212h1v1h-1zM632 213h1v1h-1zM801 213h1v1h-1zM806 213h2v1h-2zM809 213h1v1h-1zM825 213h1v1h-1zM868 213h1v1h-1zM892 213h1v1h-1zM918 213h1v1h-1zM628 214h1v1h-1zM631 214h2v1h-2zM810 214h1v1h-1zM825 214h1v1h-1zM868 214h1v1h-1zM892 214h1v1h-1zM918 214h1v1h-1zM517 215h5v1h-5zM627 215h1v1h-1zM629 215h2v1h-2zM810 215h1v1h-1zM824 215h1v1h-1zM868 215h1v1h-1zM892 215h1v1h-1zM918 215h1v1h-1zM517 216h1v1h-1zM522 216h1v1h-1zM531 216h1v1h-1zM627 216h1v1h-1zM810 216h1v1h-1zM824 216h1v1h-1zM868 216h1v1h-1zM892 216h1v1h-1zM918 216h1v1h-1zM516 217h1v1h-1zM522 217h1v1h-1zM530 217h1v1h-1zM532 217h1v1h-1zM627 217h1v1h-1zM811 217h1v1h-1zM824 217h1v1h-1zM869 217h1v1h-1zM891 217h1v1h-1zM919 217h1v1h-1zM516 218h1v1h-1zM522 218h1v1h-1zM530 218h1v1h-1zM533 218h2v1h-2zM626 218h1v1h-1zM811 218h1v1h-1zM817 218h7v1h-7zM869 218h1v1h-1zM891 218h1v1h-1zM919 218h1v1h-1zM516 219h1v1h-1zM522 219h1v1h-1zM529 219h1v1h-1zM534 219h1v1h-1zM626 219h1v1h-1zM812 219h5v1h-5zM870 219h1v1h-1zM875 219h10v1h-10zM887 219h4v1h-4zM920 219h2v1h-2zM516 220h1v1h-1zM522 220h1v1h-1zM529 220h1v1h-1zM535 220h1v1h-1zM626 220h1v1h-1zM871 220h4v1h-4zM885 220h2v1h-2zM922 220h6v1h-6zM516 221h1v1h-1zM523 221h1v1h-1zM529 221h1v1h-1zM535 221h1v1h-1zM626 221h1v1h-1zM928 221h1v1h-1zM515 222h1v1h-1zM523 222h1v1h-1zM529 222h1v1h-1zM535 222h1v1h-1zM626 222h1v1h-1zM928 222h1v1h-1zM515 223h1v1h-1zM523 223h1v1h-1zM528 223h1v1h-1zM535 223h1v1h-1zM626 223h1v1h-1zM928 223h1v1h-1zM515 224h1v1h-1zM523 224h1v1h-1zM527 224h2v1h-2zM536 224h1v1h-1zM626 224h1v1h-1zM928 224h1v1h-1zM515 225h1v1h-1zM524 225h1v1h-1zM526 225h1v1h-1zM537 225h1v1h-1zM619 225h7v1h-7zM928 225h1v1h-1zM512 226h3v1h-3zM524 226h1v1h-1zM526 226h1v1h-1zM538 226h1v1h-1zM618 226h1v1h-1zM929 226h1v1h-1zM512 227h1v1h-1zM525 227h1v1h-1zM538 227h1v1h-1zM618 227h1v1h-1zM929 227h1v1h-1zM511 228h1v1h-1zM539 228h1v1h-1zM617 228h1v1h-1zM929 228h1v1h-1zM511 229h1v1h-1zM539 229h1v1h-1zM617 229h1v1h-1zM930 229h1v1h-1zM511 230h1v1h-1zM539 230h1v1h-1zM617 230h1v1h-1zM931 230h1v1h-1zM457 231h4v1h-4zM511 231h1v1h-1zM539 231h1v1h-1zM617 231h1v1h-1zM932 231h4v1h-4zM456 232h1v1h-1zM461 232h1v1h-1zM511 232h1v1h-1zM539 232h1v1h-1zM616 232h1v1h-1zM936 232h1v1h-1zM456 233h1v1h-1zM461 233h1v1h-1zM510 233h1v1h-1zM539 233h1v1h-1zM616 233h1v1h-1zM936 233h1v1h-1zM456 234h1v1h-1zM462 234h1v1h-1zM510 234h1v1h-1zM539 234h1v1h-1zM616 234h1v1h-1zM936 234h1v1h-1zM456 235h1v1h-1zM462 235h1v1h-1zM510 235h1v1h-1zM539 235h1v1h-1zM592 235h7v1h-7zM616 235h1v1h-1zM936 235h1v1h-1zM455 236h1v1h-1zM462 236h1v1h-1zM505 236h5v1h-5zM540 236h1v1h-1zM592 236h1v1h-1zM598 236h1v1h-1zM614 236h2v1h-2zM936 236h1v1h-1zM455 237h1v1h-1zM462 237h1v1h-1zM505 237h1v1h-1zM540 237h4v1h-4zM592 237h1v1h-1zM599 237h1v1h-1zM613 237h1v1h-1zM937 237h1v1h-1zM455 238h1v1h-1zM462 238h1v1h-1zM465 238h1v1h-1zM504 238h1v1h-1zM544 238h1v1h-1zM591 238h1v1h-1zM599 238h1v1h-1zM613 238h1v1h-1zM937 238h1v1h-1zM455 239h1v1h-1zM463 239h2v1h-2zM466 239h1v1h-1zM504 239h1v1h-1zM544 239h1v1h-1zM591 239h1v1h-1zM599 239h1v1h-1zM613 239h1v1h-1zM937 239h1v1h-1zM455 240h1v1h-1zM466 240h1v1h-1zM504 240h1v1h-1zM544 240h1v1h-1zM591 240h1v1h-1zM600 240h1v1h-1zM612 240h1v1h-1zM937 240h1v1h-1zM453 241h2v1h-2zM466 241h1v1h-1zM504 241h1v1h-1zM544 241h1v1h-1zM591 241h1v1h-1zM600 241h1v1h-1zM612 241h1v1h-1zM938 241h4v1h-4zM452 242h1v1h-1zM466 242h1v1h-1zM504 242h1v1h-1zM544 242h1v1h-1zM591 242h1v1h-1zM600 242h1v1h-1zM612 242h1v1h-1zM942 242h1v1h-1zM452 243h1v1h-1zM467 243h1v1h-1zM504 243h1v1h-1zM544 243h1v1h-1zM590 243h1v1h-1zM600 243h1v1h-1zM612 243h1v1h-1zM942 243h1v1h-1zM451 244h1v1h-1zM467 244h1v1h-1zM503 244h1v1h-1zM544 244h1v1h-1zM590 244h1v1h-1zM601 244h1v1h-1zM612 244h1v1h-1zM942 244h1v1h-1zM451 245h1v1h-1zM468 245h4v1h-4zM474 245h2v1h-2zM503 245h1v1h-1zM545 245h1v1h-1zM567 245h1v1h-1zM570 245h1v1h-1zM575 245h2v1h-2zM589 245h1v1h-1zM601 245h1v1h-1zM611 245h1v1h-1zM942 245h1v1h-1zM451 246h1v1h-1zM472 246h2v1h-2zM476 246h1v1h-1zM503 246h1v1h-1zM545 246h1v1h-1zM562 246h5v1h-5zM568 246h2v1h-2zM571 246h4v1h-4zM577 246h12v1h-12zM601 246h4v1h-4zM608 246h3v1h-3zM943 246h1v1h-1zM451 247h1v1h-1zM477 247h1v1h-1zM498 247h5v1h-5zM545 247h5v1h-5zM551 247h3v1h-3zM561 247h1v1h-1zM605 247h3v1h-3zM943 247h1v1h-1zM451 248h1v1h-1zM478 248h1v1h-1zM498 248h1v1h-1zM550 248h1v1h-1zM553 248h1v1h-1zM560 248h1v1h-1zM943 248h1v1h-1zM450 249h1v1h-1zM478 249h1v1h-1zM498 249h1v1h-1zM553 249h1v1h-1zM559 249h1v1h-1zM943 249h1v1h-1zM450 250h1v1h-1zM478 250h1v1h-1zM497 250h1v1h-1zM553 250h1v1h-1zM559 250h1v1h-1zM944 250h2v1h-2zM450 251h1v1h-1zM478 251h1v1h-1zM497 251h1v1h-1zM554 251h1v1h-1zM558 251h1v1h-1zM946 251h1v1h-1zM447 252h2v1h-2zM450 252h1v1h-1zM478 252h1v1h-1zM497 252h1v1h-1zM554 252h1v1h-1zM558 252h1v1h-1zM946 252h1v1h-1zM446 253h1v1h-1zM449 253h1v1h-1zM478 253h1v1h-1zM497 253h1v1h-1zM554 253h1v1h-1zM558 253h1v1h-1zM947 253h1v1h-1zM446 254h1v1h-1zM478 254h1v1h-1zM496 254h1v1h-1zM554 254h1v1h-1zM558 254h1v1h-1zM947 254h1v1h-1zM446 255h1v1h-1zM479 255h1v1h-1zM496 255h1v1h-1zM555 255h1v1h-1zM557 255h1v1h-1zM947 255h1v1h-1zM445 256h1v1h-1zM479 256h1v1h-1zM495 256h1v1h-1zM555 256h1v1h-1zM557 256h1v1h-1zM947 256h1v1h-1zM445 257h1v1h-1zM479 257h12v1h-12zM492 257h3v1h-3zM556 257h1v1h-1zM947 257h1v1h-1zM952 257h2v1h-2zM445 258h1v1h-1zM491 258h1v1h-1zM947 258h1v1h-1zM951 258h1v1h-1zM954 258h2v1h-2zM445 259h1v1h-1zM948 259h1v1h-1zM950 259h1v1h-1zM956 259h1v1h-1zM444 260h1v1h-1zM949 260h1v1h-1zM957 260h1v1h-1zM443 261h1v1h-1zM957 261h1v1h-1zM440 262h3v1h-3zM957 262h1v1h-1zM440 263h1v1h-1zM957 263h1v1h-1zM439 264h1v1h-1zM957 264h1v1h-1zM439 265h1v1h-1zM957 265h1v1h-1zM963 265h1v1h-1zM439 266h1v1h-1zM958 266h1v1h-1zM963 266h5v1h-5zM438 267h1v1h-1zM958 267h1v1h-1zM960 267h3v1h-3zM968 267h2v1h-2zM438 268h1v1h-1zM958 268h1v1h-1zM960 268h1v1h-1zM970 268h1v1h-1zM437 269h1v1h-1zM959 269h1v1h-1zM970 269h1v1h-1zM437 270h1v1h-1zM970 270h1v1h-1zM437 271h1v1h-1zM970 271h1v1h-1zM437 272h1v1h-1zM970 272h1v1h-1zM436 273h1v1h-1zM971 273h1v1h-1zM435 274h1v1h-1zM971 274h1v1h-1zM435 275h1v1h-1zM972 275h1v1h-1zM435 276h1v1h-1zM972 276h4v1h-4zM434 277h1v1h-1zM976 277h1v1h-1zM434 278h1v1h-1zM977 278h1v1h-1zM434 279h1v1h-1zM977 279h1v1h-1zM434 280h1v1h-1zM977 280h1v1h-1zM434 281h1v1h-1zM977 281h1v1h-1zM433 282h1v1h-1zM977 282h1v1h-1zM432 283h1v1h-1zM978 283h1v1h-1zM432 284h1v1h-1zM978 284h1v1h-1zM431 285h1v1h-1zM979 285h1v1h-1zM430 286h1v1h-1zM980 286h4v1h-4zM430 287h1v1h-1zM984 287h1v1h-1zM430 288h1v1h-1zM984 288h1v1h-1zM429 289h1v1h-1zM984 289h1v1h-1zM429 290h1v1h-1zM984 290h1v1h-1zM426 291h3v1h-3zM984 291h1v1h-1zM426 292h1v1h-1zM984 292h1v1h-1zM425 293h1v1h-1zM984 293h1v1h-1zM425 294h1v1h-1zM984 294h1v1h-1zM425 295h1v1h-1zM985 295h1v1h-1zM424 296h1v1h-1zM986 296h1v1h-1zM424 297h1v1h-1zM986 297h1v1h-1zM424 298h1v1h-1zM987 298h3v1h-3zM423 299h1v1h-1zM990 299h1v1h-1zM423 300h1v1h-1zM990 300h1v1h-1zM423 301h1v1h-1zM990 301h1v1h-1zM423 302h1v1h-1zM990 302h1v1h-1zM422 303h1v1h-1zM991 303h1v1h-1zM421 304h1v1h-1zM991 304h1v1h-1zM421 305h1v1h-1zM991 305h1v1h-1zM421 306h1v1h-1zM991 306h1v1h-1zM420 307h1v1h-1zM992 307h1v1h-1zM995 307h1v1h-1zM420 308h1v1h-1zM992 308h4v1h-4zM419 309h1v1h-1zM996 309h1v1h-1zM419 310h1v1h-1zM996 310h1v1h-1zM415 311h2v1h-2zM419 311h1v1h-1zM996 311h1v1h-1zM415 312h1v1h-1zM417 312h2v1h-2zM996 312h1v1h-1zM415 313h1v1h-1zM996 313h1v1h-1zM415 314h1v1h-1zM996 314h1v1h-1zM414 315h1v1h-1zM997 315h1v1h-1zM414 316h1v1h-1zM997 316h1v1h-1zM414 317h1v1h-1zM997 317h2v1h-2zM414 318h1v1h-1zM997 318h1v1h-1zM999 318h1v1h-1zM413 319h2v1h-2zM999 319h1v1h-1zM412 320h1v1h-1zM1000 320h1v1h-1zM412 321h1v1h-1zM1000 321h1v1h-1zM411 322h1v1h-1zM1000 322h1v1h-1zM411 323h1v1h-1zM1000 323h1v1h-1zM411 324h1v1h-1zM1001 324h1v1h-1zM411 325h1v1h-1zM1001 325h1v1h-1zM411 326h1v1h-1zM1001 326h1v1h-1zM1005 326h1v1h-1zM410 327h1v1h-1zM1002 327h1v1h-1zM1004 327h1v1h-1zM1006 327h1v1h-1zM1013 327h1v1h-1zM404 328h2v1h-2zM410 328h1v1h-1zM1003 328h1v1h-1zM1007 328h1v1h-1zM1012 328h1v1h-1zM1014 328h1v1h-1zM403 329h1v1h-1zM406 329h1v1h-1zM410 329h1v1h-1zM1007 329h1v1h-1zM1011 329h1v1h-1zM1015 329h1v1h-1zM403 330h1v1h-1zM406 330h4v1h-4zM1008 330h2v1h-2zM1011 330h1v1h-1zM1015 330h1v1h-1zM402 331h1v1h-1zM1010 331h1v1h-1zM1016 331h1v1h-1zM402 332h1v1h-1zM1017 332h1v1h-1zM402 333h1v1h-1zM1018 333h1v1h-1zM1022 333h1v1h-1zM394 334h2v1h-2zM401 334h1v1h-1zM1018 334h4v1h-4zM1023 334h1v1h-1zM394 335h1v1h-1zM396 335h4v1h-4zM401 335h1v1h-1zM1023 335h2v1h-2zM394 336h1v1h-1zM400 336h1v1h-1zM1025 336h1v1h-1zM394 337h1v1h-1zM1026 337h1v1h-1zM393 338h1v1h-1zM1026 338h1v1h-1zM393 339h1v1h-1zM1026 339h1v1h-1zM393 340h1v1h-1zM1026 340h1v1h-1zM393 341h1v1h-1zM1027 341h1v1h-1zM392 342h1v1h-1zM1027 342h1v1h-1zM1031 342h1v1h-1zM1033 342h2v1h-2zM391 343h1v1h-1zM1027 343h1v1h-1zM1029 343h2v1h-2zM1032 343h1v1h-1zM1035 343h1v1h-1zM391 344h1v1h-1zM1028 344h1v1h-1zM1035 344h1v1h-1zM391 345h1v1h-1zM1036 345h1v1h-1zM391 346h1v1h-1zM1036 346h1v1h-1zM390 347h1v1h-1zM390 348h1v1h-1zM390 349h1v1h-1zM390 350h1v1h-1zM390 351h1v1h-1zM389 352h1v1h-1zM389 353h1v1h-1zM388 354h1v1h-1zM388 355h1v1h-1zM388 356h1v1h-1zM388 357h1v1h-1zM388 358h1v1h-1zM387 359h1v1h-1zM387 360h1v1h-1zM387 361h1v1h-1zM386 362h1v1h-1zM386 363h1v1h-1zM386 364h1v1h-1zM386 365h1v1h-1zM386 366h1v1h-1zM385 367h1v1h-1zM385 368h1v1h-1zM385 369h1v1h-1zM385 370h1v1h-1zM385 371h1v1h-1zM384 372h1v1h-1zM384 373h1v1h-1zM384 374h1v1h-1zM384 375h1v1h-1zM383 376h1v1h-1zM383 377h1v1h-1zM383 378h1v1h-1zM383 379h1v1h-1zM382 380h1v1h-1zM382 381h1v1h-1zM382 382h1v1h-1zM382 383h1v1h-1zM381 384h1v1h-1zM381 385h1v1h-1zM381 386h1v1h-1zM381 387h1v1h-1zM380 388h1v1h-1zM380 389h1v1h-1zM379 390h1v1h-1zM379 391h1v1h-1zM379 392h1v1h-1zM379 393h1v1h-1zM378 394h1v1h-1zM378 395h1v1h-1zM378 396h1v1h-1zM378 397h1v1h-1zM378 398h1v1h-1zM377 399h1v1h-1zM376 400h1v1h-1zM376 401h1v1h-1zM376 402h1v1h-1zM376 403h1v1h-1zM375 404h1v1h-1zM375 405h1v1h-1zM375 406h1v1h-1zM374 407h1v1h-1zM374 408h1v1h-1zM265 409h3v1h-3zM373 409h1v1h-1zM265 410h1v1h-1zM268 410h17v1h-17zM373 410h1v1h-1zM264 411h1v1h-1zM285 411h2v1h-2zM373 411h1v1h-1zM264 412h1v1h-1zM287 412h1v1h-1zM372 412h1v1h-1zM264 413h1v1h-1zM287 413h1v1h-1zM372 413h1v1h-1zM264 414h1v1h-1zM287 414h1v1h-1zM372 414h1v1h-1zM263 415h1v1h-1zM287 415h1v1h-1zM371 415h1v1h-1zM263 416h1v1h-1zM288 416h1v1h-1zM371 416h1v1h-1zM263 417h1v1h-1zM288 417h1v1h-1zM370 417h1v1h-1zM260 418h3v1h-3zM288 418h1v1h-1zM370 418h1v1h-1zM260 419h1v1h-1zM289 419h1v1h-1zM369 419h1v1h-1zM259 420h1v1h-1zM289 420h12v1h-12zM369 420h1v1h-1zM259 421h1v1h-1zM301 421h3v1h-3zM369 421h1v1h-1zM259 422h1v1h-1zM304 422h1v1h-1zM369 422h1v1h-1zM258 423h1v1h-1zM304 423h1v1h-1zM368 423h1v1h-1zM258 424h1v1h-1zM304 424h1v1h-1zM367 424h1v1h-1zM258 425h1v1h-1zM304 425h1v1h-1zM367 425h1v1h-1zM258 426h1v1h-1zM304 426h1v1h-1zM367 426h1v1h-1zM257 427h1v1h-1zM304 427h1v1h-1zM366 427h1v1h-1zM256 428h1v1h-1zM305 428h1v1h-1zM366 428h1v1h-1zM256 429h1v1h-1zM305 429h3v1h-3zM366 429h1v1h-1zM256 430h1v1h-1zM305 430h1v1h-1zM308 430h1v1h-1zM366 430h1v1h-1zM256 431h1v1h-1zM308 431h1v1h-1zM366 431h1v1h-1zM255 432h1v1h-1zM308 432h1v1h-1zM365 432h1v1h-1zM255 433h1v1h-1zM308 433h1v1h-1zM364 433h1v1h-1zM255 434h1v1h-1zM308 434h1v1h-1zM364 434h1v1h-1zM255 435h1v1h-1zM308 435h1v1h-1zM364 435h1v1h-1zM253 436h1v1h-1zM255 436h1v1h-1zM308 436h1v1h-1zM364 436h1v1h-1zM253 437h2v1h-2zM308 437h1v1h-1zM364 437h1v1h-1zM253 438h1v1h-1zM309 438h3v1h-3zM363 438h1v1h-1zM253 439h1v1h-1zM312 439h1v1h-1zM363 439h1v1h-1zM252 440h1v1h-1zM312 440h1v1h-1zM363 440h1v1h-1zM252 441h1v1h-1zM313 441h1v1h-1zM362 441h1v1h-1zM252 442h1v1h-1zM313 442h1v1h-1zM361 442h1v1h-1zM252 443h1v1h-1zM313 443h1v1h-1zM361 443h1v1h-1zM251 444h1v1h-1zM314 444h1v1h-1zM361 444h1v1h-1zM251 445h1v1h-1zM314 445h1v1h-1zM360 445h1v1h-1zM250 446h1v1h-1zM315 446h1v1h-1zM360 446h1v1h-1zM249 447h1v1h-1zM316 447h1v1h-1zM360 447h1v1h-1zM249 448h1v1h-1zM317 448h1v1h-1zM360 448h1v1h-1zM249 449h1v1h-1zM317 449h1v1h-1zM360 449h1v1h-1zM248 450h1v1h-1zM318 450h1v1h-1zM359 450h1v1h-1zM248 451h1v1h-1zM318 451h1v1h-1zM358 451h1v1h-1zM248 452h1v1h-1zM318 452h1v1h-1zM358 452h1v1h-1zM246 453h2v1h-2zM318 453h1v1h-1zM358 453h1v1h-1zM245 454h1v1h-1zM318 454h1v1h-1zM358 454h1v1h-1zM245 455h1v1h-1zM318 455h1v1h-1zM357 455h1v1h-1zM245 456h1v1h-1zM318 456h1v1h-1zM357 456h1v1h-1zM244 457h1v1h-1zM318 457h1v1h-1zM357 457h1v1h-1zM244 458h1v1h-1zM318 458h1v1h-1zM356 458h1v1h-1zM244 459h1v1h-1zM318 459h1v1h-1zM356 459h1v1h-1zM243 460h1v1h-1zM318 460h1v1h-1zM355 460h1v1h-1zM243 461h1v1h-1zM318 461h1v1h-1zM355 461h1v1h-1zM243 462h1v1h-1zM318 462h1v1h-1zM355 462h1v1h-1zM242 463h1v1h-1zM318 463h1v1h-1zM355 463h1v1h-1zM242 464h1v1h-1zM318 464h1v1h-1zM355 464h1v1h-1zM242 465h1v1h-1zM318 465h1v1h-1zM354 465h1v1h-1zM242 466h1v1h-1zM318 466h1v1h-1zM354 466h1v1h-1zM241 467h1v1h-1zM318 467h1v1h-1zM353 467h1v1h-1zM241 468h1v1h-1zM318 468h1v1h-1zM353 468h1v1h-1zM241 469h1v1h-1zM318 469h2v1h-2zM353 469h1v1h-1zM240 470h1v1h-1zM319 470h1v1h-1zM352 470h1v1h-1zM239 471h1v1h-1zM319 471h1v1h-1zM352 471h1v1h-1zM239 472h1v1h-1zM319 472h1v1h-1zM352 472h1v1h-1zM239 473h1v1h-1zM319 473h1v1h-1zM352 473h1v1h-1zM239 474h1v1h-1zM319 474h1v1h-1zM351 474h1v1h-1zM238 475h1v1h-1zM319 475h1v1h-1zM351 475h1v1h-1zM238 476h1v1h-1zM319 476h1v1h-1zM351 476h1v1h-1zM238 477h1v1h-1zM319 477h1v1h-1zM351 477h1v1h-1zM237 478h1v1h-1zM319 478h1v1h-1zM350 478h1v1h-1zM237 479h1v1h-1zM319 479h1v1h-1zM350 479h1v1h-1zM236 480h1v1h-1zM319 480h1v1h-1zM350 480h1v1h-1zM236 481h1v1h-1zM319 481h1v1h-1zM350 481h1v1h-1zM236 482h1v1h-1zM319 482h1v1h-1zM349 482h1v1h-1zM236 483h1v1h-1zM319 483h1v1h-1zM349 483h1v1h-1zM236 484h1v1h-1zM319 484h1v1h-1zM348 484h1v1h-1zM235 485h1v1h-1zM319 485h1v1h-1zM348 485h1v1h-1zM235 486h1v1h-1zM319 486h1v1h-1zM348 486h1v1h-1zM235 487h1v1h-1zM319 487h1v1h-1zM347 487h1v1h-1zM235 488h1v1h-1zM319 488h1v1h-1zM347 488h1v1h-1zM234 489h1v1h-1zM319 489h1v1h-1zM347 489h1v1h-1zM234 490h1v1h-1zM319 490h1v1h-1zM347 490h1v1h-1zM233 491h1v1h-1zM319 491h1v1h-1zM346 491h1v1h-1zM233 492h1v1h-1zM319 492h1v1h-1zM346 492h1v1h-1zM233 493h1v1h-1zM319 493h1v1h-1zM346 493h1v1h-1zM233 494h1v1h-1zM319 494h1v1h-1zM345 494h1v1h-1zM233 495h1v1h-1zM319 495h1v1h-1zM345 495h1v1h-1zM232 496h1v1h-1zM319 496h1v1h-1zM345 496h1v1h-1zM232 497h1v1h-1zM319 497h1v1h-1zM345 497h1v1h-1zM232 498h1v1h-1zM319 498h1v1h-1zM345 498h1v1h-1zM231 499h1v1h-1zM319 499h1v1h-1zM344 499h1v1h-1zM231 500h1v1h-1zM319 500h2v1h-2zM344 500h1v1h-1zM231 501h1v1h-1zM320 501h1v1h-1zM343 501h1v1h-1zM231 502h1v1h-1zM320 502h1v1h-1zM343 502h1v1h-1zM231 503h1v1h-1zM320 503h1v1h-1zM342 503h1v1h-1zM230 504h1v1h-1zM320 504h1v1h-1zM342 504h1v1h-1zM229 505h2v1h-2zM320 505h1v1h-1zM341 505h1v1h-1zM228 506h1v1h-1zM320 506h1v1h-1zM341 506h1v1h-1zM228 507h1v1h-1zM320 507h1v1h-1zM340 507h1v1h-1zM228 508h1v1h-1zM320 508h1v1h-1zM340 508h1v1h-1zM228 509h1v1h-1zM320 509h1v1h-1zM339 509h1v1h-1zM227 510h1v1h-1zM320 510h1v1h-1zM339 510h1v1h-1zM227 511h1v1h-1zM320 511h1v1h-1zM339 511h1v1h-1zM226 512h2v1h-2zM320 512h1v1h-1zM339 512h1v1h-1zM225 513h1v1h-1zM320 513h1v1h-1zM339 513h1v1h-1zM225 514h1v1h-1zM320 514h1v1h-1zM338 514h1v1h-1zM225 515h1v1h-1zM320 515h1v1h-1zM338 515h1v1h-1zM224 516h1v1h-1zM320 516h1v1h-1zM334 516h5v1h-5zM224 517h1v1h-1zM320 517h1v1h-1zM333 517h1v1h-1zM224 518h1v1h-1zM320 518h1v1h-1zM326 518h1v1h-1zM333 518h1v1h-1zM224 519h1v1h-1zM320 519h2v1h-2zM325 519h1v1h-1zM327 519h1v1h-1zM332 519h1v1h-1zM223 520h1v1h-1zM322 520h1v1h-1zM325 520h1v1h-1zM328 520h1v1h-1zM331 520h1v1h-1zM223 521h1v1h-1zM323 521h2v1h-2zM328 521h1v1h-1zM330 521h1v1h-1zM222 522h1v1h-1zM329 522h1v1h-1zM221 523h1v1h-1zM221 524h1v1h-1zM221 525h1v1h-1zM221 526h1v1h-1zM220 527h1v1h-1zM220 528h1v1h-1zM220 529h1v1h-1zM219 530h1v1h-1zM219 531h1v1h-1zM219 532h1v1h-1zM219 533h1v1h-1zM218 534h1v1h-1zM218 535h1v1h-1zM218 536h1v1h-1zM217 537h2v1h-2zM216 538h1v1h-1zM215 539h1v1h-1zM215 540h1v1h-1zM215 541h1v1h-1zM215 542h1v1h-1zM214 543h1v1h-1zM214 544h1v1h-1zM214 545h1v1h-1zM213 546h1v1h-1zM212 547h1v1h-1zM212 548h1v1h-1zM212 549h1v1h-1zM212 550h1v1h-1zM212 551h1v1h-1zM211 552h1v1h-1zM210 553h2v1h-2zM209 554h1v1h-1zM209 555h1v1h-1zM208 556h1v1h-1zM208 557h1v1h-1zM208 558h1v1h-1zM208 559h1v1h-1zM208 560h1v1h-1zM208 561h1v1h-1zM205 562h3v1h-3zM205 563h1v1h-1zM205 564h1v1h-1zM205 565h1v1h-1zM204 566h1v1h-1zM204 567h1v1h-1zM204 568h1v1h-1zM203 569h1v1h-1zM201 570h3v1h-3zM201 571h1v1h-1zM200 572h1v1h-1zM200 573h1v1h-1zM200 574h1v1h-1zM200 575h1v1h-1zM199 576h1v1h-1zM199 577h1v1h-1zM198 578h1v1h-1zM198 579h1v1h-1zM198 580h1v1h-1zM197 581h1v1h-1zM197 582h1v1h-1zM196 583h1v1h-1zM196 584h1v1h-1zM196 585h1v1h-1zM195 586h1v1h-1zM195 587h1v1h-1zM195 588h1v1h-1zM195 589h1v1h-1zM194 590h1v1h-1zM194 591h1v1h-1zM194 592h1v1h-1zM193 593h2v1h-2zM192 594h1v1h-1zM192 595h1v1h-1zM191 596h1v1h-1zM191 597h1v1h-1zM191 598h1v1h-1zM190 599h1v1h-1zM190 600h1v1h-1zM189 601h1v1h-1zM189 602h1v1h-1zM189 603h1v1h-1zM188 604h1v1h-1zM188 605h1v1h-1zM188 606h1v1h-1zM188 607h1v1h-1zM188 608h1v1h-1zM184 609h4v1h-4zM183 610h1v1h-1zM183 611h1v1h-1zM183 612h1v1h-1zM182 613h1v1h-1zM182 614h1v1h-1zM182 615h1v1h-1zM179 616h3v1h-3z"/>
<path fill="#b01820" d="M676 149h1v1h-1zM676 150h1v1h-1zM676 151h1v1h-1zM676 152h1v1h-1zM675 153h2v1h-2zM675 154h2v1h-2zM675 155h2v1h-2zM675 156h1v1h-1zM677 156h1v1h-1zM675 157h1v1h-1zM677 157h1v1h-1zM675 158h1v1h-1zM677 158h1v1h-1zM675 159h1v1h-1zM677 159h1v1h-1zM674 160h1v1h-1zM677 160h1v1h-1zM674 161h1v1h-1zM677 161h1v1h-1zM687 161h1v1h-1zM674 162h1v1h-1zM677 162h1v1h-1zM687 162h1v1h-1zM674 163h1v1h-1zM677 163h1v1h-1zM687 163h1v1h-1zM674 164h1v1h-1zM677 164h1v1h-1zM687 164h1v1h-1zM674 165h1v1h-1zM677 165h1v1h-1zM687 165h2v1h-2zM674 166h1v1h-1zM677 166h1v1h-1zM687 166h2v1h-2zM674 167h1v1h-1zM677 167h1v1h-1zM686 167h1v1h-1zM688 167h1v1h-1zM672 168h2v1h-2zM677 168h1v1h-1zM686 168h1v1h-1zM688 168h1v1h-1zM672 169h2v1h-2zM677 169h1v1h-1zM686 169h1v1h-1zM688 169h1v1h-1zM672 170h2v1h-2zM677 170h1v1h-1zM686 170h1v1h-1zM688 170h1v1h-1zM672 171h1v1h-1zM677 171h1v1h-1zM686 171h1v1h-1zM688 171h1v1h-1zM672 172h1v1h-1zM677 172h1v1h-1zM686 172h1v1h-1zM688 172h1v1h-1zM672 173h1v1h-1zM677 173h1v1h-1zM686 173h1v1h-1zM689 173h1v1h-1zM671 174h1v1h-1zM677 174h1v1h-1zM686 174h1v1h-1zM689 174h1v1h-1zM671 175h1v1h-1zM677 175h1v1h-1zM686 175h1v1h-1zM689 175h1v1h-1zM671 176h1v1h-1zM677 176h1v1h-1zM686 176h1v1h-1zM689 176h1v1h-1zM671 177h1v1h-1zM677 177h1v1h-1zM686 177h1v1h-1zM689 177h1v1h-1zM671 178h1v1h-1zM677 178h1v1h-1zM686 178h1v1h-1zM689 178h1v1h-1zM671 179h1v1h-1zM677 179h1v1h-1zM685 179h1v1h-1zM689 179h1v1h-1zM727 179h1v1h-1zM671 180h1v1h-1zM677 180h1v1h-1zM685 180h1v1h-1zM689 180h1v1h-1zM727 180h1v1h-1zM671 181h1v1h-1zM677 181h1v1h-1zM685 181h1v1h-1zM689 181h1v1h-1zM727 181h1v1h-1zM671 182h1v1h-1zM677 182h1v1h-1zM685 182h1v1h-1zM690 182h1v1h-1zM727 182h1v1h-1zM671 183h1v1h-1zM677 183h1v1h-1zM685 183h1v1h-1zM690 183h1v1h-1zM727 183h1v1h-1zM735 183h1v1h-1zM670 184h1v1h-1zM677 184h1v1h-1zM685 184h1v1h-1zM690 184h1v1h-1zM727 184h1v1h-1zM735 184h1v1h-1zM670 185h1v1h-1zM677 185h1v1h-1zM685 185h1v1h-1zM690 185h1v1h-1zM727 185h1v1h-1zM735 185h1v1h-1zM670 186h1v1h-1zM678 186h1v1h-1zM681 186h1v1h-1zM685 186h1v1h-1zM690 186h1v1h-1zM727 186h1v1h-1zM735 186h1v1h-1zM670 187h1v1h-1zM678 187h1v1h-1zM681 187h1v1h-1zM685 187h1v1h-1zM690 187h1v1h-1zM726 187h1v1h-1zM728 187h1v1h-1zM735 187h1v1h-1zM667 188h2v1h-2zM670 188h1v1h-1zM678 188h1v1h-1zM681 188h1v1h-1zM685 188h1v1h-1zM690 188h1v1h-1zM726 188h1v1h-1zM728 188h1v1h-1zM735 188h1v1h-1zM666 189h1v1h-1zM668 189h1v1h-1zM670 189h1v1h-1zM678 189h1v1h-1zM680 189h2v1h-2zM685 189h1v1h-1zM690 189h1v1h-1zM726 189h1v1h-1zM728 189h1v1h-1zM735 189h1v1h-1zM666 190h1v1h-1zM668 190h1v1h-1zM670 190h1v1h-1zM678 190h1v1h-1zM680 190h2v1h-2zM685 190h1v1h-1zM690 190h1v1h-1zM726 190h1v1h-1zM728 190h1v1h-1zM732 190h2v1h-2zM735 190h1v1h-1zM666 191h1v1h-1zM668 191h1v1h-1zM670 191h1v1h-1zM678 191h1v1h-1zM680 191h2v1h-2zM685 191h1v1h-1zM690 191h1v1h-1zM726 191h1v1h-1zM728 191h1v1h-1zM731 191h1v1h-1zM734 191h2v1h-2zM666 192h1v1h-1zM668 192h1v1h-1zM670 192h1v1h-1zM678 192h1v1h-1zM680 192h1v1h-1zM682 192h1v1h-1zM684 192h1v1h-1zM690 192h1v1h-1zM726 192h1v1h-1zM728 192h1v1h-1zM731 192h1v1h-1zM734 192h2v1h-2zM658 193h1v1h-1zM666 193h1v1h-1zM668 193h1v1h-1zM670 193h1v1h-1zM678 193h1v1h-1zM680 193h1v1h-1zM682 193h1v1h-1zM684 193h1v1h-1zM690 193h1v1h-1zM726 193h1v1h-1zM728 193h1v1h-1zM731 193h1v1h-1zM735 193h1v1h-1zM658 194h1v1h-1zM666 194h1v1h-1zM668 194h1v1h-1zM670 194h1v1h-1zM678 194h1v1h-1zM680 194h1v1h-1zM682 194h1v1h-1zM684 194h1v1h-1zM691 194h1v1h-1zM726 194h1v1h-1zM728 194h1v1h-1zM731 194h1v1h-1zM735 194h2v1h-2zM658 195h1v1h-1zM666 195h1v1h-1zM668 195h1v1h-1zM670 195h1v1h-1zM678 195h1v1h-1zM680 195h1v1h-1zM682 195h1v1h-1zM684 195h1v1h-1zM691 195h1v1h-1zM726 195h1v1h-1zM728 195h1v1h-1zM731 195h1v1h-1zM736 195h1v1h-1zM658 196h1v1h-1zM666 196h1v1h-1zM668 196h2v1h-2zM679 196h1v1h-1zM682 196h1v1h-1zM684 196h1v1h-1zM691 196h1v1h-1zM725 196h1v1h-1zM729 196h1v1h-1zM731 196h1v1h-1zM736 196h1v1h-1zM658 197h1v1h-1zM666 197h1v1h-1zM668 197h2v1h-2zM679 197h1v1h-1zM682 197h1v1h-1zM684 197h1v1h-1zM691 197h1v1h-1zM725 197h1v1h-1zM729 197h1v1h-1zM731 197h1v1h-1zM736 197h1v1h-1zM657 198h1v1h-1zM659 198h1v1h-1zM666 198h1v1h-1zM669 198h1v1h-1zM679 198h1v1h-1zM682 198h1v1h-1zM684 198h1v1h-1zM691 198h1v1h-1zM725 198h1v1h-1zM729 198h2v1h-2zM736 198h1v1h-1zM649 199h1v1h-1zM657 199h1v1h-1zM659 199h1v1h-1zM666 199h1v1h-1zM669 199h1v1h-1zM679 199h1v1h-1zM682 199h1v1h-1zM684 199h1v1h-1zM691 199h1v1h-1zM725 199h1v1h-1zM729 199h2v1h-2zM736 199h1v1h-1zM649 200h2v1h-2zM657 200h1v1h-1zM659 200h1v1h-1zM666 200h1v1h-1zM669 200h1v1h-1zM679 200h1v1h-1zM682 200h1v1h-1zM684 200h1v1h-1zM691 200h1v1h-1zM725 200h1v1h-1zM730 200h1v1h-1zM736 200h1v1h-1zM649 201h1v1h-1zM651 201h1v1h-1zM657 201h1v1h-1zM659 201h1v1h-1zM666 201h1v1h-1zM669 201h1v1h-1zM679 201h1v1h-1zM682 201h1v1h-1zM684 201h1v1h-1zM691 201h1v1h-1zM725 201h1v1h-1zM730 201h1v1h-1zM736 201h1v1h-1zM649 202h1v1h-1zM651 202h1v1h-1zM657 202h1v1h-1zM659 202h1v1h-1zM666 202h1v1h-1zM682 202h1v1h-1zM684 202h1v1h-1zM691 202h1v1h-1zM725 202h1v1h-1zM736 202h1v1h-1zM648 203h1v1h-1zM651 203h1v1h-1zM657 203h1v1h-1zM659 203h1v1h-1zM665 203h1v1h-1zM682 203h1v1h-1zM684 203h1v1h-1zM691 203h1v1h-1zM725 203h1v1h-1zM736 203h1v1h-1zM648 204h1v1h-1zM651 204h1v1h-1zM657 204h1v1h-1zM659 204h1v1h-1zM665 204h1v1h-1zM682 204h1v1h-1zM684 204h1v1h-1zM691 204h1v1h-1zM725 204h1v1h-1zM736 204h1v1h-1zM749 204h1v1h-1zM648 205h1v1h-1zM652 205h1v1h-1zM656 205h1v1h-1zM659 205h1v1h-1zM665 205h1v1h-1zM683 205h2v1h-2zM691 205h1v1h-1zM725 205h1v1h-1zM736 205h1v1h-1zM738 205h1v1h-1zM749 205h1v1h-1zM648 206h1v1h-1zM652 206h1v1h-1zM656 206h1v1h-1zM659 206h1v1h-1zM665 206h1v1h-1zM683 206h1v1h-1zM691 206h1v1h-1zM725 206h1v1h-1zM736 206h1v1h-1zM738 206h1v1h-1zM749 206h1v1h-1zM648 207h1v1h-1zM652 207h1v1h-1zM656 207h1v1h-1zM660 207h1v1h-1zM665 207h1v1h-1zM683 207h1v1h-1zM691 207h1v1h-1zM725 207h1v1h-1zM736 207h1v1h-1zM738 207h1v1h-1zM748 207h2v1h-2zM648 208h1v1h-1zM652 208h1v1h-1zM656 208h1v1h-1zM660 208h1v1h-1zM665 208h1v1h-1zM683 208h1v1h-1zM691 208h1v1h-1zM725 208h1v1h-1zM736 208h1v1h-1zM738 208h1v1h-1zM748 208h2v1h-2zM761 208h1v1h-1zM647 209h1v1h-1zM652 209h1v1h-1zM656 209h1v1h-1zM660 209h1v1h-1zM665 209h1v1h-1zM683 209h1v1h-1zM691 209h1v1h-1zM725 209h1v1h-1zM736 209h3v1h-3zM748 209h1v1h-1zM750 209h1v1h-1zM761 209h1v1h-1zM647 210h1v1h-1zM652 210h1v1h-1zM656 210h1v1h-1zM660 210h1v1h-1zM664 210h1v1h-1zM683 210h1v1h-1zM692 210h1v1h-1zM724 210h1v1h-1zM736 210h2v1h-2zM739 210h1v1h-1zM748 210h1v1h-1zM750 210h1v1h-1zM761 210h1v1h-1zM647 211h1v1h-1zM653 211h1v1h-1zM656 211h1v1h-1zM660 211h1v1h-1zM664 211h1v1h-1zM683 211h1v1h-1zM692 211h1v1h-1zM724 211h1v1h-1zM736 211h2v1h-2zM739 211h1v1h-1zM748 211h1v1h-1zM750 211h1v1h-1zM761 211h1v1h-1zM647 212h1v1h-1zM653 212h1v1h-1zM655 212h1v1h-1zM660 212h1v1h-1zM663 212h2v1h-2zM683 212h1v1h-1zM692 212h1v1h-1zM724 212h1v1h-1zM736 212h2v1h-2zM739 212h1v1h-1zM748 212h1v1h-1zM750 212h1v1h-1zM760 212h2v1h-2zM647 213h1v1h-1zM653 213h1v1h-1zM655 213h1v1h-1zM660 213h1v1h-1zM663 213h2v1h-2zM692 213h1v1h-1zM724 213h1v1h-1zM736 213h2v1h-2zM739 213h1v1h-1zM747 213h1v1h-1zM750 213h1v1h-1zM760 213h1v1h-1zM762 213h1v1h-1zM647 214h1v1h-1zM653 214h1v1h-1zM655 214h1v1h-1zM660 214h1v1h-1zM663 214h1v1h-1zM692 214h1v1h-1zM724 214h1v1h-1zM736 214h2v1h-2zM739 214h1v1h-1zM747 214h1v1h-1zM750 214h1v1h-1zM760 214h1v1h-1zM762 214h1v1h-1zM828 214h1v1h-1zM647 215h1v1h-1zM653 215h1v1h-1zM655 215h1v1h-1zM660 215h1v1h-1zM663 215h1v1h-1zM692 215h1v1h-1zM724 215h1v1h-1zM736 215h1v1h-1zM739 215h1v1h-1zM747 215h1v1h-1zM750 215h1v1h-1zM760 215h1v1h-1zM762 215h1v1h-1zM828 215h1v1h-1zM647 216h1v1h-1zM653 216h2v1h-2zM660 216h1v1h-1zM663 216h1v1h-1zM692 216h1v1h-1zM711 216h1v1h-1zM724 216h1v1h-1zM736 216h1v1h-1zM739 216h1v1h-1zM747 216h1v1h-1zM750 216h1v1h-1zM759 216h1v1h-1zM762 216h1v1h-1zM828 216h1v1h-1zM647 217h1v1h-1zM653 217h2v1h-2zM660 217h1v1h-1zM663 217h1v1h-1zM692 217h1v1h-1zM711 217h1v1h-1zM724 217h1v1h-1zM739 217h1v1h-1zM747 217h1v1h-1zM750 217h1v1h-1zM759 217h1v1h-1zM762 217h1v1h-1zM828 217h1v1h-1zM647 218h1v1h-1zM660 218h1v1h-1zM663 218h1v1h-1zM692 218h1v1h-1zM710 218h2v1h-2zM724 218h1v1h-1zM739 218h1v1h-1zM747 218h1v1h-1zM750 218h1v1h-1zM758 218h1v1h-1zM762 218h1v1h-1zM828 218h1v1h-1zM647 219h1v1h-1zM660 219h1v1h-1zM663 219h1v1h-1zM692 219h1v1h-1zM710 219h2v1h-2zM724 219h1v1h-1zM739 219h1v1h-1zM745 219h1v1h-1zM747 219h1v1h-1zM750 219h1v1h-1zM758 219h1v1h-1zM762 219h1v1h-1zM827 219h2v1h-2zM647 220h1v1h-1zM660 220h1v1h-1zM663 220h1v1h-1zM693 220h2v1h-2zM710 220h1v1h-1zM712 220h1v1h-1zM724 220h1v1h-1zM740 220h1v1h-1zM745 220h2v1h-2zM750 220h1v1h-1zM758 220h1v1h-1zM762 220h1v1h-1zM827 220h1v1h-1zM829 220h1v1h-1zM647 221h1v1h-1zM660 221h1v1h-1zM663 221h1v1h-1zM693 221h2v1h-2zM709 221h1v1h-1zM712 221h1v1h-1zM724 221h1v1h-1zM740 221h1v1h-1zM744 221h1v1h-1zM746 221h1v1h-1zM750 221h1v1h-1zM758 221h1v1h-1zM762 221h1v1h-1zM827 221h1v1h-1zM829 221h1v1h-1zM647 222h1v1h-1zM660 222h1v1h-1zM663 222h1v1h-1zM693 222h1v1h-1zM695 222h1v1h-1zM709 222h1v1h-1zM712 222h1v1h-1zM724 222h1v1h-1zM740 222h1v1h-1zM744 222h1v1h-1zM750 222h1v1h-1zM757 222h1v1h-1zM762 222h1v1h-1zM827 222h1v1h-1zM829 222h1v1h-1zM896 222h1v1h-1zM638 223h1v1h-1zM647 223h1v1h-1zM660 223h1v1h-1zM662 223h1v1h-1zM693 223h1v1h-1zM695 223h1v1h-1zM709 223h1v1h-1zM712 223h1v1h-1zM724 223h1v1h-1zM740 223h1v1h-1zM743 223h1v1h-1zM750 223h1v1h-1zM757 223h1v1h-1zM762 223h1v1h-1zM827 223h1v1h-1zM829 223h1v1h-1zM896 223h1v1h-1zM637 224h2v1h-2zM646 224h1v1h-1zM660 224h1v1h-1zM662 224h1v1h-1zM695 224h1v1h-1zM708 224h1v1h-1zM712 224h1v1h-1zM724 224h1v1h-1zM740 224h1v1h-1zM743 224h1v1h-1zM751 224h1v1h-1zM755 224h1v1h-1zM757 224h1v1h-1zM763 224h1v1h-1zM827 224h1v1h-1zM829 224h1v1h-1zM895 224h2v1h-2zM637 225h1v1h-1zM639 225h1v1h-1zM646 225h1v1h-1zM660 225h1v1h-1zM662 225h1v1h-1zM695 225h1v1h-1zM708 225h1v1h-1zM712 225h1v1h-1zM721 225h1v1h-1zM723 225h2v1h-2zM740 225h1v1h-1zM743 225h1v1h-1zM751 225h1v1h-1zM753 225h1v1h-1zM755 225h1v1h-1zM757 225h1v1h-1zM763 225h1v1h-1zM827 225h1v1h-1zM829 225h1v1h-1zM895 225h1v1h-1zM897 225h1v1h-1zM636 226h1v1h-1zM639 226h1v1h-1zM642 226h1v1h-1zM646 226h1v1h-1zM660 226h1v1h-1zM662 226h1v1h-1zM695 226h1v1h-1zM707 226h1v1h-1zM712 226h1v1h-1zM721 226h2v1h-2zM740 226h1v1h-1zM743 226h1v1h-1zM751 226h1v1h-1zM753 226h1v1h-1zM755 226h1v1h-1zM757 226h1v1h-1zM763 226h1v1h-1zM827 226h1v1h-1zM829 226h1v1h-1zM894 226h1v1h-1zM897 226h1v1h-1zM636 227h1v1h-1zM639 227h1v1h-1zM642 227h1v1h-1zM646 227h1v1h-1zM661 227h2v1h-2zM696 227h1v1h-1zM701 227h1v1h-1zM707 227h1v1h-1zM712 227h1v1h-1zM720 227h1v1h-1zM740 227h1v1h-1zM742 227h1v1h-1zM752 227h1v1h-1zM754 227h2v1h-2zM757 227h1v1h-1zM763 227h1v1h-1zM826 227h1v1h-1zM830 227h1v1h-1zM894 227h1v1h-1zM897 227h1v1h-1zM636 228h1v1h-1zM639 228h1v1h-1zM642 228h1v1h-1zM646 228h1v1h-1zM661 228h2v1h-2zM696 228h1v1h-1zM701 228h2v1h-2zM707 228h1v1h-1zM712 228h1v1h-1zM720 228h1v1h-1zM740 228h1v1h-1zM742 228h1v1h-1zM752 228h1v1h-1zM754 228h1v1h-1zM756 228h2v1h-2zM763 228h1v1h-1zM826 228h1v1h-1zM830 228h1v1h-1zM894 228h1v1h-1zM897 228h1v1h-1zM635 229h1v1h-1zM639 229h1v1h-1zM642 229h1v1h-1zM646 229h1v1h-1zM661 229h2v1h-2zM696 229h1v1h-1zM701 229h2v1h-2zM706 229h1v1h-1zM712 229h1v1h-1zM719 229h1v1h-1zM740 229h1v1h-1zM742 229h1v1h-1zM756 229h1v1h-1zM763 229h1v1h-1zM826 229h1v1h-1zM830 229h2v1h-2zM894 229h1v1h-1zM897 229h1v1h-1zM635 230h1v1h-1zM640 230h1v1h-1zM642 230h2v1h-2zM646 230h1v1h-1zM661 230h1v1h-1zM696 230h1v1h-1zM700 230h1v1h-1zM703 230h1v1h-1zM706 230h1v1h-1zM713 230h1v1h-1zM719 230h1v1h-1zM741 230h2v1h-2zM756 230h1v1h-1zM763 230h1v1h-1zM826 230h1v1h-1zM831 230h1v1h-1zM893 230h1v1h-1zM897 230h1v1h-1zM635 231h1v1h-1zM640 231h2v1h-2zM643 231h1v1h-1zM646 231h1v1h-1zM661 231h1v1h-1zM697 231h1v1h-1zM700 231h1v1h-1zM703 231h1v1h-1zM706 231h1v1h-1zM713 231h1v1h-1zM719 231h1v1h-1zM741 231h2v1h-2zM756 231h1v1h-1zM763 231h1v1h-1zM826 231h1v1h-1zM831 231h1v1h-1zM893 231h1v1h-1zM897 231h1v1h-1zM635 232h1v1h-1zM640 232h2v1h-2zM643 232h1v1h-1zM646 232h1v1h-1zM661 232h1v1h-1zM697 232h1v1h-1zM700 232h1v1h-1zM703 232h1v1h-1zM706 232h1v1h-1zM713 232h1v1h-1zM719 232h1v1h-1zM741 232h2v1h-2zM756 232h1v1h-1zM763 232h1v1h-1zM826 232h1v1h-1zM832 232h1v1h-1zM892 232h1v1h-1zM898 232h1v1h-1zM634 233h1v1h-1zM640 233h2v1h-2zM643 233h1v1h-1zM645 233h1v1h-1zM661 233h1v1h-1zM697 233h1v1h-1zM700 233h1v1h-1zM703 233h1v1h-1zM705 233h1v1h-1zM713 233h1v1h-1zM718 233h1v1h-1zM741 233h1v1h-1zM763 233h1v1h-1zM826 233h1v1h-1zM832 233h1v1h-1zM891 233h1v1h-1zM898 233h1v1h-1zM634 234h1v1h-1zM641 234h1v1h-1zM643 234h1v1h-1zM645 234h1v1h-1zM697 234h1v1h-1zM699 234h1v1h-1zM703 234h1v1h-1zM705 234h1v1h-1zM713 234h1v1h-1zM718 234h1v1h-1zM741 234h1v1h-1zM763 234h1v1h-1zM825 234h1v1h-1zM832 234h1v1h-1zM891 234h1v1h-1zM898 234h1v1h-1zM634 235h1v1h-1zM641 235h1v1h-1zM643 235h1v1h-1zM645 235h1v1h-1zM698 235h2v1h-2zM704 235h2v1h-2zM713 235h1v1h-1zM718 235h1v1h-1zM741 235h1v1h-1zM764 235h1v1h-1zM825 235h1v1h-1zM832 235h1v1h-1zM891 235h1v1h-1zM898 235h1v1h-1zM633 236h1v1h-1zM643 236h1v1h-1zM645 236h1v1h-1zM698 236h2v1h-2zM704 236h2v1h-2zM713 236h1v1h-1zM717 236h1v1h-1zM764 236h1v1h-1zM825 236h1v1h-1zM832 236h1v1h-1zM849 236h1v1h-1zM890 236h1v1h-1zM898 236h1v1h-1zM632 237h2v1h-2zM644 237h2v1h-2zM698 237h1v1h-1zM704 237h1v1h-1zM713 237h1v1h-1zM717 237h1v1h-1zM764 237h1v1h-1zM825 237h1v1h-1zM832 237h1v1h-1zM849 237h1v1h-1zM890 237h1v1h-1zM898 237h1v1h-1zM626 238h1v1h-1zM631 238h1v1h-1zM644 238h2v1h-2zM704 238h1v1h-1zM713 238h1v1h-1zM716 238h1v1h-1zM764 238h1v1h-1zM825 238h1v1h-1zM832 238h1v1h-1zM848 238h2v1h-2zM890 238h1v1h-1zM898 238h1v1h-1zM626 239h1v1h-1zM631 239h1v1h-1zM644 239h1v1h-1zM714 239h2v1h-2zM764 239h1v1h-1zM825 239h1v1h-1zM833 239h1v1h-1zM840 239h1v1h-1zM847 239h3v1h-3zM890 239h1v1h-1zM899 239h1v1h-1zM626 240h1v1h-1zM631 240h1v1h-1zM644 240h1v1h-1zM714 240h2v1h-2zM764 240h1v1h-1zM785 240h1v1h-1zM824 240h1v1h-1zM833 240h1v1h-1zM840 240h2v1h-2zM846 240h1v1h-1zM849 240h1v1h-1zM890 240h1v1h-1zM899 240h1v1h-1zM625 241h2v1h-2zM630 241h1v1h-1zM714 241h1v1h-1zM764 241h1v1h-1zM785 241h1v1h-1zM824 241h1v1h-1zM833 241h1v1h-1zM839 241h1v1h-1zM841 241h1v1h-1zM845 241h1v1h-1zM849 241h1v1h-1zM889 241h1v1h-1zM899 241h1v1h-1zM516 242h1v1h-1zM625 242h2v1h-2zM630 242h1v1h-1zM714 242h1v1h-1zM764 242h1v1h-1zM785 242h1v1h-1zM824 242h1v1h-1zM833 242h1v1h-1zM839 242h1v1h-1zM842 242h1v1h-1zM844 242h1v1h-1zM849 242h1v1h-1zM889 242h1v1h-1zM899 242h1v1h-1zM516 243h1v1h-1zM625 243h2v1h-2zM630 243h1v1h-1zM765 243h1v1h-1zM785 243h2v1h-2zM824 243h1v1h-1zM833 243h1v1h-1zM838 243h1v1h-1zM842 243h1v1h-1zM844 243h1v1h-1zM849 243h1v1h-1zM889 243h1v1h-1zM899 243h1v1h-1zM516 244h1v1h-1zM625 244h2v1h-2zM630 244h1v1h-1zM765 244h1v1h-1zM781 244h1v1h-1zM784 244h1v1h-1zM786 244h1v1h-1zM788 244h1v1h-1zM792 244h1v1h-1zM824 244h1v1h-1zM833 244h1v1h-1zM837 244h1v1h-1zM842 244h1v1h-1zM844 244h1v1h-1zM849 244h1v1h-1zM889 244h1v1h-1zM899 244h1v1h-1zM516 245h2v1h-2zM625 245h1v1h-1zM627 245h1v1h-1zM630 245h1v1h-1zM765 245h1v1h-1zM776 245h1v1h-1zM781 245h1v1h-1zM784 245h1v1h-1zM786 245h1v1h-1zM788 245h1v1h-1zM792 245h1v1h-1zM824 245h1v1h-1zM834 245h1v1h-1zM837 245h1v1h-1zM842 245h1v1h-1zM844 245h1v1h-1zM849 245h1v1h-1zM889 245h1v1h-1zM900 245h1v1h-1zM516 246h2v1h-2zM625 246h1v1h-1zM627 246h1v1h-1zM630 246h1v1h-1zM765 246h1v1h-1zM775 246h2v1h-2zM781 246h2v1h-2zM784 246h1v1h-1zM786 246h1v1h-1zM788 246h1v1h-1zM792 246h1v1h-1zM818 246h1v1h-1zM824 246h1v1h-1zM834 246h1v1h-1zM836 246h1v1h-1zM843 246h1v1h-1zM849 246h1v1h-1zM888 246h1v1h-1zM900 246h1v1h-1zM516 247h2v1h-2zM624 247h1v1h-1zM627 247h1v1h-1zM630 247h1v1h-1zM765 247h1v1h-1zM775 247h2v1h-2zM781 247h2v1h-2zM784 247h1v1h-1zM786 247h1v1h-1zM788 247h2v1h-2zM792 247h1v1h-1zM818 247h1v1h-1zM824 247h1v1h-1zM834 247h1v1h-1zM836 247h1v1h-1zM843 247h1v1h-1zM849 247h1v1h-1zM888 247h1v1h-1zM900 247h1v1h-1zM515 248h1v1h-1zM517 248h1v1h-1zM624 248h1v1h-1zM627 248h1v1h-1zM630 248h1v1h-1zM766 248h1v1h-1zM775 248h1v1h-1zM777 248h1v1h-1zM781 248h2v1h-2zM784 248h1v1h-1zM787 248h1v1h-1zM789 248h1v1h-1zM791 248h2v1h-2zM818 248h1v1h-1zM823 248h1v1h-1zM834 248h1v1h-1zM836 248h1v1h-1zM843 248h1v1h-1zM849 248h1v1h-1zM888 248h1v1h-1zM900 248h1v1h-1zM515 249h1v1h-1zM517 249h1v1h-1zM624 249h1v1h-1zM627 249h1v1h-1zM630 249h1v1h-1zM766 249h1v1h-1zM769 249h1v1h-1zM774 249h1v1h-1zM777 249h1v1h-1zM780 249h1v1h-1zM783 249h1v1h-1zM787 249h1v1h-1zM789 249h1v1h-1zM791 249h2v1h-2zM818 249h2v1h-2zM823 249h1v1h-1zM835 249h1v1h-1zM849 249h1v1h-1zM888 249h1v1h-1zM900 249h1v1h-1zM515 250h1v1h-1zM517 250h1v1h-1zM526 250h1v1h-1zM624 250h1v1h-1zM627 250h1v1h-1zM630 250h1v1h-1zM766 250h1v1h-1zM769 250h1v1h-1zM774 250h1v1h-1zM777 250h1v1h-1zM780 250h1v1h-1zM783 250h1v1h-1zM787 250h1v1h-1zM789 250h1v1h-1zM791 250h1v1h-1zM793 250h1v1h-1zM817 250h1v1h-1zM819 250h1v1h-1zM823 250h1v1h-1zM835 250h1v1h-1zM849 250h1v1h-1zM888 250h1v1h-1zM901 250h1v1h-1zM903 250h1v1h-1zM515 251h1v1h-1zM518 251h1v1h-1zM526 251h2v1h-2zM624 251h1v1h-1zM627 251h1v1h-1zM630 251h1v1h-1zM766 251h1v1h-1zM768 251h2v1h-2zM774 251h1v1h-1zM777 251h1v1h-1zM780 251h1v1h-1zM787 251h1v1h-1zM789 251h1v1h-1zM791 251h1v1h-1zM793 251h1v1h-1zM817 251h1v1h-1zM819 251h1v1h-1zM823 251h1v1h-1zM850 251h1v1h-1zM875 251h1v1h-1zM887 251h1v1h-1zM901 251h3v1h-3zM907 251h1v1h-1zM454 252h1v1h-1zM515 252h1v1h-1zM518 252h1v1h-1zM526 252h2v1h-2zM530 252h2v1h-2zM624 252h1v1h-1zM627 252h1v1h-1zM630 252h1v1h-1zM767 252h3v1h-3zM774 252h1v1h-1zM777 252h1v1h-1zM780 252h1v1h-1zM789 252h1v1h-1zM791 252h1v1h-1zM793 252h1v1h-1zM802 252h1v1h-1zM817 252h1v1h-1zM819 252h1v1h-1zM823 252h1v1h-1zM850 252h1v1h-1zM875 252h1v1h-1zM887 252h1v1h-1zM901 252h1v1h-1zM903 252h1v1h-1zM907 252h2v1h-2zM454 253h1v1h-1zM515 253h1v1h-1zM518 253h1v1h-1zM526 253h1v1h-1zM528 253h1v1h-1zM530 253h2v1h-2zM624 253h1v1h-1zM627 253h1v1h-1zM629 253h1v1h-1zM767 253h1v1h-1zM770 253h1v1h-1zM774 253h1v1h-1zM777 253h1v1h-1zM780 253h1v1h-1zM789 253h1v1h-1zM791 253h1v1h-1zM793 253h1v1h-1zM802 253h1v1h-1zM817 253h1v1h-1zM819 253h1v1h-1zM823 253h1v1h-1zM850 253h1v1h-1zM875 253h1v1h-1zM887 253h1v1h-1zM904 253h1v1h-1zM906 253h1v1h-1zM908 253h1v1h-1zM454 254h1v1h-1zM515 254h1v1h-1zM518 254h1v1h-1zM525 254h1v1h-1zM528 254h1v1h-1zM530 254h2v1h-2zM624 254h1v1h-1zM627 254h1v1h-1zM629 254h1v1h-1zM770 254h1v1h-1zM773 254h1v1h-1zM778 254h1v1h-1zM780 254h1v1h-1zM789 254h1v1h-1zM791 254h1v1h-1zM793 254h1v1h-1zM802 254h1v1h-1zM817 254h1v1h-1zM819 254h1v1h-1zM823 254h1v1h-1zM850 254h1v1h-1zM852 254h1v1h-1zM875 254h2v1h-2zM887 254h1v1h-1zM904 254h1v1h-1zM906 254h1v1h-1zM908 254h1v1h-1zM454 255h2v1h-2zM515 255h1v1h-1zM518 255h1v1h-1zM525 255h1v1h-1zM529 255h1v1h-1zM531 255h1v1h-1zM624 255h1v1h-1zM627 255h1v1h-1zM629 255h1v1h-1zM770 255h1v1h-1zM773 255h1v1h-1zM778 255h1v1h-1zM780 255h1v1h-1zM790 255h2v1h-2zM793 255h1v1h-1zM802 255h1v1h-1zM808 255h1v1h-1zM817 255h1v1h-1zM819 255h1v1h-1zM822 255h1v1h-1zM850 255h1v1h-1zM852 255h1v1h-1zM861 255h1v1h-1zM875 255h2v1h-2zM886 255h1v1h-1zM904 255h1v1h-1zM906 255h1v1h-1zM909 255h1v1h-1zM921 255h1v1h-1zM453 256h1v1h-1zM455 256h1v1h-1zM515 256h1v1h-1zM518 256h1v1h-1zM525 256h1v1h-1zM529 256h1v1h-1zM532 256h1v1h-1zM624 256h1v1h-1zM627 256h1v1h-1zM629 256h1v1h-1zM770 256h1v1h-1zM773 256h1v1h-1zM778 256h2v1h-2zM790 256h2v1h-2zM793 256h1v1h-1zM801 256h2v1h-2zM807 256h2v1h-2zM817 256h1v1h-1zM820 256h1v1h-1zM822 256h1v1h-1zM850 256h1v1h-1zM852 256h2v1h-2zM861 256h1v1h-1zM875 256h2v1h-2zM886 256h1v1h-1zM904 256h2v1h-2zM909 256h1v1h-1zM921 256h1v1h-1zM453 257h1v1h-1zM455 257h1v1h-1zM500 257h1v1h-1zM508 257h1v1h-1zM515 257h1v1h-1zM518 257h1v1h-1zM525 257h1v1h-1zM532 257h1v1h-1zM612 257h1v1h-1zM615 257h1v1h-1zM624 257h1v1h-1zM627 257h1v1h-1zM629 257h1v1h-1zM770 257h1v1h-1zM772 257h1v1h-1zM779 257h1v1h-1zM790 257h1v1h-1zM793 257h1v1h-1zM801 257h1v1h-1zM803 257h1v1h-1zM807 257h1v1h-1zM809 257h1v1h-1zM817 257h1v1h-1zM820 257h1v1h-1zM822 257h1v1h-1zM850 257h1v1h-1zM852 257h2v1h-2zM861 257h1v1h-1zM874 257h1v1h-1zM876 257h1v1h-1zM886 257h1v1h-1zM905 257h1v1h-1zM909 257h1v1h-1zM921 257h1v1h-1zM453 258h1v1h-1zM455 258h1v1h-1zM500 258h1v1h-1zM508 258h1v1h-1zM515 258h1v1h-1zM519 258h1v1h-1zM525 258h1v1h-1zM532 258h1v1h-1zM534 258h1v1h-1zM612 258h1v1h-1zM615 258h1v1h-1zM624 258h1v1h-1zM628 258h2v1h-2zM771 258h2v1h-2zM779 258h1v1h-1zM790 258h1v1h-1zM793 258h1v1h-1zM801 258h1v1h-1zM803 258h1v1h-1zM806 258h1v1h-1zM809 258h1v1h-1zM817 258h1v1h-1zM820 258h1v1h-1zM822 258h1v1h-1zM850 258h1v1h-1zM852 258h2v1h-2zM861 258h2v1h-2zM874 258h1v1h-1zM876 258h1v1h-1zM886 258h1v1h-1zM905 258h1v1h-1zM910 258h1v1h-1zM921 258h2v1h-2zM453 259h1v1h-1zM455 259h1v1h-1zM500 259h1v1h-1zM508 259h1v1h-1zM515 259h1v1h-1zM519 259h1v1h-1zM525 259h1v1h-1zM532 259h1v1h-1zM534 259h1v1h-1zM612 259h1v1h-1zM614 259h2v1h-2zM623 259h1v1h-1zM628 259h2v1h-2zM771 259h1v1h-1zM790 259h1v1h-1zM793 259h1v1h-1zM797 259h1v1h-1zM801 259h1v1h-1zM803 259h1v1h-1zM806 259h1v1h-1zM809 259h1v1h-1zM816 259h1v1h-1zM820 259h1v1h-1zM822 259h1v1h-1zM850 259h2v1h-2zM854 259h1v1h-1zM861 259h2v1h-2zM874 259h1v1h-1zM876 259h1v1h-1zM886 259h1v1h-1zM910 259h1v1h-1zM920 259h1v1h-1zM922 259h1v1h-1zM453 260h1v1h-1zM455 260h1v1h-1zM500 260h1v1h-1zM508 260h2v1h-2zM514 260h1v1h-1zM519 260h1v1h-1zM525 260h1v1h-1zM533 260h2v1h-2zM611 260h2v1h-2zM614 260h1v1h-1zM616 260h1v1h-1zM623 260h1v1h-1zM628 260h2v1h-2zM790 260h1v1h-1zM794 260h1v1h-1zM797 260h1v1h-1zM801 260h1v1h-1zM803 260h1v1h-1zM806 260h1v1h-1zM809 260h1v1h-1zM816 260h1v1h-1zM820 260h1v1h-1zM822 260h1v1h-1zM850 260h2v1h-2zM854 260h1v1h-1zM860 260h1v1h-1zM862 260h1v1h-1zM874 260h1v1h-1zM877 260h1v1h-1zM882 260h2v1h-2zM886 260h1v1h-1zM910 260h1v1h-1zM920 260h1v1h-1zM922 260h1v1h-1zM453 261h1v1h-1zM456 261h1v1h-1zM499 261h1v1h-1zM501 261h1v1h-1zM507 261h1v1h-1zM509 261h1v1h-1zM514 261h1v1h-1zM519 261h1v1h-1zM525 261h1v1h-1zM534 261h1v1h-1zM611 261h1v1h-1zM613 261h2v1h-2zM616 261h1v1h-1zM621 261h2v1h-2zM628 261h1v1h-1zM790 261h1v1h-1zM794 261h1v1h-1zM797 261h1v1h-1zM800 261h1v1h-1zM803 261h1v1h-1zM805 261h1v1h-1zM810 261h1v1h-1zM816 261h1v1h-1zM820 261h1v1h-1zM822 261h1v1h-1zM850 261h2v1h-2zM854 261h1v1h-1zM860 261h1v1h-1zM863 261h1v1h-1zM865 261h2v1h-2zM874 261h1v1h-1zM877 261h1v1h-1zM882 261h1v1h-1zM884 261h1v1h-1zM886 261h1v1h-1zM911 261h1v1h-1zM919 261h2v1h-2zM922 261h1v1h-1zM453 262h1v1h-1zM456 262h1v1h-1zM499 262h1v1h-1zM501 262h1v1h-1zM507 262h1v1h-1zM509 262h1v1h-1zM514 262h1v1h-1zM519 262h1v1h-1zM525 262h1v1h-1zM535 262h1v1h-1zM611 262h1v1h-1zM613 262h1v1h-1zM616 262h1v1h-1zM620 262h1v1h-1zM628 262h1v1h-1zM794 262h1v1h-1zM797 262h1v1h-1zM800 262h1v1h-1zM804 262h2v1h-2zM810 262h1v1h-1zM816 262h1v1h-1zM820 262h1v1h-1zM822 262h1v1h-1zM851 262h1v1h-1zM855 262h1v1h-1zM860 262h1v1h-1zM863 262h2v1h-2zM866 262h1v1h-1zM874 262h1v1h-1zM877 262h1v1h-1zM882 262h1v1h-1zM885 262h1v1h-1zM912 262h1v1h-1zM917 262h2v1h-2zM922 262h1v1h-1zM451 263h1v1h-1zM453 263h1v1h-1zM456 263h2v1h-2zM499 263h1v1h-1zM501 263h1v1h-1zM507 263h1v1h-1zM509 263h1v1h-1zM514 263h1v1h-1zM519 263h1v1h-1zM525 263h1v1h-1zM535 263h1v1h-1zM611 263h1v1h-1zM613 263h1v1h-1zM616 263h1v1h-1zM620 263h1v1h-1zM628 263h1v1h-1zM794 263h1v1h-1zM797 263h2v1h-2zM800 263h1v1h-1zM811 263h1v1h-1zM816 263h1v1h-1zM821 263h1v1h-1zM855 263h1v1h-1zM860 263h1v1h-1zM866 263h1v1h-1zM874 263h1v1h-1zM877 263h1v1h-1zM882 263h1v1h-1zM913 263h1v1h-1zM916 263h1v1h-1zM922 263h1v1h-1zM451 264h1v1h-1zM453 264h1v1h-1zM456 264h1v1h-1zM458 264h1v1h-1zM499 264h1v1h-1zM501 264h1v1h-1zM507 264h1v1h-1zM509 264h1v1h-1zM514 264h1v1h-1zM519 264h1v1h-1zM525 264h1v1h-1zM535 264h1v1h-1zM611 264h1v1h-1zM613 264h1v1h-1zM616 264h1v1h-1zM619 264h1v1h-1zM628 264h1v1h-1zM794 264h1v1h-1zM796 264h1v1h-1zM798 264h1v1h-1zM800 264h1v1h-1zM811 264h1v1h-1zM816 264h1v1h-1zM821 264h1v1h-1zM856 264h1v1h-1zM860 264h1v1h-1zM867 264h1v1h-1zM874 264h1v1h-1zM878 264h1v1h-1zM881 264h1v1h-1zM914 264h2v1h-2zM923 264h1v1h-1zM451 265h1v1h-1zM453 265h1v1h-1zM458 265h1v1h-1zM499 265h1v1h-1zM502 265h1v1h-1zM507 265h1v1h-1zM510 265h1v1h-1zM514 265h1v1h-1zM520 265h1v1h-1zM525 265h1v1h-1zM535 265h1v1h-1zM611 265h1v1h-1zM616 265h1v1h-1zM619 265h1v1h-1zM795 265h2v1h-2zM798 265h1v1h-1zM800 265h1v1h-1zM811 265h1v1h-1zM816 265h1v1h-1zM821 265h1v1h-1zM856 265h1v1h-1zM860 265h1v1h-1zM867 265h1v1h-1zM874 265h1v1h-1zM878 265h1v1h-1zM881 265h1v1h-1zM914 265h1v1h-1zM923 265h1v1h-1zM449 266h1v1h-1zM451 266h1v1h-1zM453 266h1v1h-1zM458 266h1v1h-1zM464 266h1v1h-1zM498 266h1v1h-1zM502 266h1v1h-1zM507 266h1v1h-1zM510 266h1v1h-1zM514 266h1v1h-1zM520 266h1v1h-1zM522 266h1v1h-1zM525 266h1v1h-1zM535 266h1v1h-1zM611 266h1v1h-1zM616 266h1v1h-1zM618 266h1v1h-1zM796 266h1v1h-1zM798 266h1v1h-1zM800 266h1v1h-1zM811 266h1v1h-1zM816 266h1v1h-1zM821 266h1v1h-1zM857 266h1v1h-1zM859 266h1v1h-1zM867 266h1v1h-1zM873 266h1v1h-1zM878 266h1v1h-1zM881 266h1v1h-1zM923 266h1v1h-1zM447 267h1v1h-1zM449 267h1v1h-1zM451 267h2v1h-2zM458 267h1v1h-1zM464 267h1v1h-1zM498 267h1v1h-1zM503 267h1v1h-1zM507 267h1v1h-1zM510 267h1v1h-1zM514 267h1v1h-1zM520 267h1v1h-1zM522 267h1v1h-1zM525 267h1v1h-1zM535 267h1v1h-1zM592 267h1v1h-1zM610 267h1v1h-1zM617 267h2v1h-2zM796 267h1v1h-1zM798 267h1v1h-1zM800 267h1v1h-1zM812 267h1v1h-1zM816 267h1v1h-1zM857 267h1v1h-1zM859 267h1v1h-1zM868 267h1v1h-1zM873 267h1v1h-1zM879 267h1v1h-1zM881 267h1v1h-1zM923 267h1v1h-1zM447 268h1v1h-1zM449 268h1v1h-1zM451 268h2v1h-2zM458 268h1v1h-1zM464 268h1v1h-1zM498 268h1v1h-1zM504 268h1v1h-1zM506 268h1v1h-1zM510 268h1v1h-1zM514 268h1v1h-1zM520 268h1v1h-1zM522 268h1v1h-1zM525 268h1v1h-1zM535 268h1v1h-1zM592 268h1v1h-1zM610 268h1v1h-1zM617 268h2v1h-2zM798 268h2v1h-2zM812 268h1v1h-1zM816 268h1v1h-1zM857 268h1v1h-1zM859 268h1v1h-1zM868 268h1v1h-1zM873 268h1v1h-1zM879 268h1v1h-1zM881 268h1v1h-1zM923 268h1v1h-1zM447 269h3v1h-3zM451 269h2v1h-2zM458 269h1v1h-1zM464 269h1v1h-1zM498 269h1v1h-1zM504 269h1v1h-1zM506 269h1v1h-1zM510 269h1v1h-1zM513 269h1v1h-1zM521 269h2v1h-2zM525 269h1v1h-1zM535 269h1v1h-1zM592 269h2v1h-2zM610 269h1v1h-1zM617 269h2v1h-2zM798 269h2v1h-2zM812 269h1v1h-1zM815 269h1v1h-1zM857 269h2v1h-2zM869 269h1v1h-1zM873 269h1v1h-1zM880 269h1v1h-1zM923 269h1v1h-1zM447 270h4v1h-4zM452 270h1v1h-1zM459 270h1v1h-1zM463 270h1v1h-1zM465 270h1v1h-1zM498 270h1v1h-1zM504 270h1v1h-1zM506 270h1v1h-1zM510 270h1v1h-1zM513 270h1v1h-1zM521 270h1v1h-1zM523 270h1v1h-1zM525 270h1v1h-1zM535 270h1v1h-1zM592 270h2v1h-2zM610 270h1v1h-1zM617 270h1v1h-1zM799 270h1v1h-1zM812 270h1v1h-1zM815 270h1v1h-1zM857 270h2v1h-2zM869 270h1v1h-1zM873 270h1v1h-1zM880 270h1v1h-1zM924 270h1v1h-1zM447 271h2v1h-2zM450 271h1v1h-1zM452 271h1v1h-1zM459 271h1v1h-1zM463 271h1v1h-1zM465 271h1v1h-1zM497 271h1v1h-1zM504 271h1v1h-1zM506 271h1v1h-1zM511 271h1v1h-1zM513 271h1v1h-1zM521 271h1v1h-1zM523 271h2v1h-2zM535 271h1v1h-1zM592 271h2v1h-2zM610 271h1v1h-1zM617 271h1v1h-1zM799 271h1v1h-1zM812 271h1v1h-1zM815 271h1v1h-1zM857 271h1v1h-1zM870 271h1v1h-1zM873 271h1v1h-1zM924 271h1v1h-1zM447 272h1v1h-1zM450 272h1v1h-1zM452 272h1v1h-1zM459 272h1v1h-1zM463 272h1v1h-1zM465 272h1v1h-1zM497 272h1v1h-1zM504 272h1v1h-1zM506 272h1v1h-1zM511 272h1v1h-1zM513 272h1v1h-1zM523 272h2v1h-2zM535 272h1v1h-1zM592 272h2v1h-2zM610 272h1v1h-1zM617 272h1v1h-1zM799 272h1v1h-1zM812 272h1v1h-1zM815 272h1v1h-1zM871 272h1v1h-1zM873 272h1v1h-1zM924 272h1v1h-1zM447 273h1v1h-1zM450 273h1v1h-1zM452 273h1v1h-1zM459 273h1v1h-1zM463 273h1v1h-1zM465 273h1v1h-1zM497 273h1v1h-1zM505 273h2v1h-2zM511 273h1v1h-1zM513 273h1v1h-1zM523 273h2v1h-2zM535 273h1v1h-1zM590 273h1v1h-1zM592 273h1v1h-1zM594 273h1v1h-1zM610 273h1v1h-1zM813 273h1v1h-1zM815 273h1v1h-1zM871 273h2v1h-2zM924 273h1v1h-1zM447 274h1v1h-1zM450 274h1v1h-1zM452 274h1v1h-1zM459 274h1v1h-1zM463 274h1v1h-1zM465 274h1v1h-1zM496 274h1v1h-1zM505 274h1v1h-1zM511 274h1v1h-1zM513 274h1v1h-1zM523 274h2v1h-2zM535 274h1v1h-1zM590 274h1v1h-1zM592 274h1v1h-1zM594 274h1v1h-1zM610 274h1v1h-1zM813 274h1v1h-1zM815 274h1v1h-1zM872 274h1v1h-1zM924 274h1v1h-1zM447 275h1v1h-1zM450 275h1v1h-1zM452 275h1v1h-1zM459 275h1v1h-1zM463 275h1v1h-1zM465 275h1v1h-1zM495 275h1v1h-1zM505 275h1v1h-1zM511 275h2v1h-2zM523 275h2v1h-2zM535 275h1v1h-1zM589 275h2v1h-2zM592 275h1v1h-1zM594 275h1v1h-1zM610 275h1v1h-1zM813 275h1v1h-1zM815 275h1v1h-1zM872 275h1v1h-1zM925 275h1v1h-1zM447 276h1v1h-1zM459 276h1v1h-1zM463 276h1v1h-1zM466 276h1v1h-1zM471 276h1v1h-1zM494 276h1v1h-1zM505 276h1v1h-1zM512 276h1v1h-1zM524 276h1v1h-1zM535 276h1v1h-1zM589 276h1v1h-1zM591 276h1v1h-1zM594 276h1v1h-1zM610 276h1v1h-1zM813 276h1v1h-1zM815 276h1v1h-1zM872 276h1v1h-1zM925 276h1v1h-1zM447 277h1v1h-1zM459 277h1v1h-1zM463 277h1v1h-1zM466 277h1v1h-1zM471 277h1v1h-1zM494 277h1v1h-1zM505 277h1v1h-1zM512 277h1v1h-1zM524 277h1v1h-1zM535 277h1v1h-1zM589 277h1v1h-1zM591 277h1v1h-1zM594 277h1v1h-1zM609 277h1v1h-1zM813 277h1v1h-1zM815 277h1v1h-1zM925 277h1v1h-1zM927 277h1v1h-1zM447 278h1v1h-1zM459 278h1v1h-1zM463 278h1v1h-1zM466 278h1v1h-1zM471 278h2v1h-2zM493 278h1v1h-1zM524 278h1v1h-1zM535 278h1v1h-1zM586 278h1v1h-1zM589 278h1v1h-1zM591 278h1v1h-1zM595 278h1v1h-1zM609 278h1v1h-1zM813 278h2v1h-2zM925 278h1v1h-1zM927 278h2v1h-2zM446 279h1v1h-1zM459 279h1v1h-1zM463 279h1v1h-1zM466 279h1v1h-1zM470 279h1v1h-1zM472 279h1v1h-1zM484 279h1v1h-1zM493 279h1v1h-1zM535 279h1v1h-1zM586 279h1v1h-1zM589 279h1v1h-1zM591 279h1v1h-1zM595 279h1v1h-1zM609 279h1v1h-1zM814 279h1v1h-1zM926 279h3v1h-3zM446 280h1v1h-1zM459 280h1v1h-1zM462 280h1v1h-1zM466 280h1v1h-1zM468 280h1v1h-1zM470 280h1v1h-1zM473 280h1v1h-1zM484 280h1v1h-1zM493 280h1v1h-1zM535 280h1v1h-1zM561 280h1v1h-1zM580 280h1v1h-1zM585 280h2v1h-2zM588 280h1v1h-1zM595 280h1v1h-1zM609 280h1v1h-1zM814 280h1v1h-1zM926 280h1v1h-1zM929 280h1v1h-1zM446 281h1v1h-1zM459 281h1v1h-1zM462 281h1v1h-1zM466 281h1v1h-1zM468 281h1v1h-1zM470 281h1v1h-1zM473 281h1v1h-1zM484 281h1v1h-1zM493 281h1v1h-1zM535 281h1v1h-1zM561 281h1v1h-1zM580 281h2v1h-2zM585 281h2v1h-2zM588 281h1v1h-1zM595 281h1v1h-1zM609 281h1v1h-1zM814 281h1v1h-1zM926 281h1v1h-1zM929 281h1v1h-1zM445 282h1v1h-1zM459 282h1v1h-1zM461 282h2v1h-2zM467 282h2v1h-2zM470 282h1v1h-1zM473 282h1v1h-1zM483 282h1v1h-1zM485 282h1v1h-1zM492 282h1v1h-1zM535 282h1v1h-1zM561 282h1v1h-1zM563 282h1v1h-1zM580 282h3v1h-3zM585 282h1v1h-1zM587 282h2v1h-2zM596 282h1v1h-1zM609 282h1v1h-1zM814 282h1v1h-1zM929 282h1v1h-1zM445 283h1v1h-1zM459 283h1v1h-1zM461 283h2v1h-2zM467 283h2v1h-2zM470 283h1v1h-1zM473 283h1v1h-1zM483 283h1v1h-1zM485 283h1v1h-1zM492 283h1v1h-1zM536 283h1v1h-1zM561 283h1v1h-1zM563 283h2v1h-2zM579 283h1v1h-1zM583 283h1v1h-1zM585 283h1v1h-1zM587 283h2v1h-2zM596 283h1v1h-1zM609 283h1v1h-1zM930 283h1v1h-1zM935 283h3v1h-3zM445 284h1v1h-1zM459 284h2v1h-2zM462 284h1v1h-1zM467 284h2v1h-2zM470 284h1v1h-1zM473 284h1v1h-1zM483 284h1v1h-1zM485 284h1v1h-1zM488 284h1v1h-1zM492 284h1v1h-1zM536 284h1v1h-1zM560 284h1v1h-1zM562 284h3v1h-3zM579 284h1v1h-1zM583 284h2v1h-2zM587 284h2v1h-2zM596 284h1v1h-1zM608 284h1v1h-1zM930 284h1v1h-1zM935 284h1v1h-1zM937 284h1v1h-1zM444 285h1v1h-1zM459 285h2v1h-2zM462 285h1v1h-1zM467 285h1v1h-1zM469 285h2v1h-2zM474 285h1v1h-1zM483 285h1v1h-1zM485 285h1v1h-1zM488 285h1v1h-1zM492 285h1v1h-1zM536 285h1v1h-1zM560 285h1v1h-1zM562 285h2v1h-2zM565 285h1v1h-1zM579 285h1v1h-1zM584 285h1v1h-1zM587 285h1v1h-1zM596 285h1v1h-1zM608 285h1v1h-1zM931 285h1v1h-1zM933 285h2v1h-2zM937 285h1v1h-1zM444 286h1v1h-1zM469 286h1v1h-1zM474 286h1v1h-1zM482 286h1v1h-1zM485 286h1v1h-1zM488 286h1v1h-1zM492 286h1v1h-1zM536 286h1v1h-1zM560 286h1v1h-1zM562 286h1v1h-1zM565 286h1v1h-1zM579 286h1v1h-1zM587 286h1v1h-1zM597 286h1v1h-1zM608 286h1v1h-1zM932 286h1v1h-1zM937 286h1v1h-1zM443 287h1v1h-1zM469 287h1v1h-1zM474 287h1v1h-1zM482 287h1v1h-1zM485 287h1v1h-1zM487 287h1v1h-1zM489 287h1v1h-1zM491 287h1v1h-1zM536 287h1v1h-1zM556 287h1v1h-1zM559 287h1v1h-1zM562 287h1v1h-1zM566 287h1v1h-1zM579 287h1v1h-1zM597 287h1v1h-1zM608 287h1v1h-1zM938 287h1v1h-1zM443 288h1v1h-1zM469 288h1v1h-1zM474 288h1v1h-1zM482 288h1v1h-1zM485 288h1v1h-1zM487 288h1v1h-1zM489 288h1v1h-1zM491 288h1v1h-1zM537 288h1v1h-1zM547 288h1v1h-1zM556 288h3v1h-3zM562 288h1v1h-1zM566 288h1v1h-1zM574 288h1v1h-1zM579 288h1v1h-1zM597 288h1v1h-1zM607 288h1v1h-1zM938 288h1v1h-1zM435 289h1v1h-1zM443 289h1v1h-1zM469 289h1v1h-1zM474 289h1v1h-1zM482 289h1v1h-1zM485 289h1v1h-1zM487 289h1v1h-1zM489 289h1v1h-1zM491 289h1v1h-1zM537 289h1v1h-1zM540 289h1v1h-1zM547 289h1v1h-1zM556 289h1v1h-1zM566 289h1v1h-1zM574 289h1v1h-1zM578 289h1v1h-1zM598 289h1v1h-1zM607 289h1v1h-1zM938 289h1v1h-1zM434 290h2v1h-2zM438 290h1v1h-1zM442 290h1v1h-1zM469 290h1v1h-1zM474 290h1v1h-1zM481 290h1v1h-1zM485 290h1v1h-1zM487 290h1v1h-1zM489 290h1v1h-1zM491 290h1v1h-1zM537 290h1v1h-1zM539 290h2v1h-2zM547 290h1v1h-1zM556 290h1v1h-1zM566 290h1v1h-1zM573 290h2v1h-2zM578 290h1v1h-1zM598 290h1v1h-1zM607 290h1v1h-1zM938 290h1v1h-1zM433 291h1v1h-1zM436 291h2v1h-2zM439 291h1v1h-1zM442 291h1v1h-1zM475 291h1v1h-1zM481 291h1v1h-1zM486 291h2v1h-2zM489 291h1v1h-1zM491 291h1v1h-1zM538 291h2v1h-2zM541 291h1v1h-1zM546 291h2v1h-2zM556 291h1v1h-1zM567 291h1v1h-1zM573 291h1v1h-1zM575 291h1v1h-1zM578 291h1v1h-1zM598 291h1v1h-1zM606 291h1v1h-1zM938 291h1v1h-1zM433 292h1v1h-1zM436 292h1v1h-1zM439 292h3v1h-3zM475 292h1v1h-1zM481 292h1v1h-1zM486 292h2v1h-2zM489 292h1v1h-1zM491 292h1v1h-1zM538 292h1v1h-1zM541 292h1v1h-1zM546 292h2v1h-2zM556 292h1v1h-1zM567 292h1v1h-1zM573 292h1v1h-1zM575 292h1v1h-1zM578 292h1v1h-1zM599 292h1v1h-1zM604 292h1v1h-1zM606 292h1v1h-1zM938 292h1v1h-1zM433 293h1v1h-1zM475 293h1v1h-1zM481 293h1v1h-1zM486 293h2v1h-2zM490 293h1v1h-1zM541 293h1v1h-1zM546 293h1v1h-1zM548 293h1v1h-1zM556 293h1v1h-1zM567 293h1v1h-1zM572 293h1v1h-1zM575 293h1v1h-1zM578 293h1v1h-1zM599 293h1v1h-1zM604 293h1v1h-1zM606 293h1v1h-1zM939 293h1v1h-1zM433 294h1v1h-1zM475 294h1v1h-1zM481 294h1v1h-1zM486 294h1v1h-1zM490 294h1v1h-1zM542 294h1v1h-1zM546 294h1v1h-1zM548 294h1v1h-1zM551 294h1v1h-1zM556 294h1v1h-1zM567 294h1v1h-1zM572 294h1v1h-1zM575 294h1v1h-1zM577 294h1v1h-1zM600 294h1v1h-1zM604 294h3v1h-3zM939 294h1v1h-1zM433 295h1v1h-1zM475 295h1v1h-1zM480 295h1v1h-1zM486 295h1v1h-1zM490 295h1v1h-1zM543 295h1v1h-1zM545 295h1v1h-1zM548 295h1v1h-1zM551 295h1v1h-1zM556 295h1v1h-1zM568 295h1v1h-1zM572 295h1v1h-1zM576 295h2v1h-2zM600 295h1v1h-1zM604 295h2v1h-2zM939 295h1v1h-1zM433 296h1v1h-1zM475 296h1v1h-1zM480 296h1v1h-1zM486 296h1v1h-1zM490 296h1v1h-1zM543 296h1v1h-1zM545 296h1v1h-1zM548 296h1v1h-1zM551 296h1v1h-1zM556 296h1v1h-1zM568 296h1v1h-1zM572 296h1v1h-1zM576 296h1v1h-1zM601 296h1v1h-1zM604 296h2v1h-2zM939 296h1v1h-1zM433 297h1v1h-1zM476 297h1v1h-1zM480 297h1v1h-1zM486 297h1v1h-1zM544 297h1v1h-1zM548 297h1v1h-1zM551 297h1v1h-1zM556 297h1v1h-1zM568 297h1v1h-1zM571 297h1v1h-1zM576 297h1v1h-1zM601 297h1v1h-1zM603 297h1v1h-1zM939 297h1v1h-1zM433 298h1v1h-1zM476 298h1v1h-1zM480 298h1v1h-1zM548 298h1v1h-1zM551 298h2v1h-2zM556 298h1v1h-1zM568 298h1v1h-1zM571 298h1v1h-1zM602 298h2v1h-2zM939 298h1v1h-1zM433 299h1v1h-1zM476 299h1v1h-1zM479 299h1v1h-1zM548 299h1v1h-1zM550 299h1v1h-1zM552 299h1v1h-1zM556 299h1v1h-1zM568 299h1v1h-1zM571 299h1v1h-1zM602 299h2v1h-2zM940 299h1v1h-1zM432 300h1v1h-1zM476 300h1v1h-1zM479 300h1v1h-1zM548 300h1v1h-1zM550 300h1v1h-1zM552 300h1v1h-1zM556 300h1v1h-1zM568 300h1v1h-1zM571 300h1v1h-1zM603 300h1v1h-1zM940 300h1v1h-1zM432 301h1v1h-1zM476 301h1v1h-1zM479 301h1v1h-1zM548 301h1v1h-1zM550 301h1v1h-1zM552 301h1v1h-1zM556 301h1v1h-1zM568 301h1v1h-1zM570 301h1v1h-1zM940 301h1v1h-1zM432 302h1v1h-1zM477 302h1v1h-1zM479 302h1v1h-1zM549 302h2v1h-2zM552 302h1v1h-1zM556 302h1v1h-1zM569 302h2v1h-2zM940 302h1v1h-1zM950 302h1v1h-1zM432 303h1v1h-1zM477 303h1v1h-1zM479 303h1v1h-1zM549 303h2v1h-2zM552 303h1v1h-1zM556 303h1v1h-1zM569 303h2v1h-2zM941 303h1v1h-1zM949 303h1v1h-1zM951 303h1v1h-1zM432 304h1v1h-1zM477 304h2v1h-2zM549 304h2v1h-2zM552 304h1v1h-1zM556 304h1v1h-1zM569 304h2v1h-2zM941 304h1v1h-1zM948 304h1v1h-1zM951 304h1v1h-1zM432 305h1v1h-1zM478 305h1v1h-1zM549 305h1v1h-1zM553 305h1v1h-1zM555 305h1v1h-1zM569 305h1v1h-1zM941 305h1v1h-1zM948 305h1v1h-1zM951 305h1v1h-1zM432 306h1v1h-1zM478 306h1v1h-1zM549 306h1v1h-1zM553 306h1v1h-1zM555 306h1v1h-1zM569 306h1v1h-1zM942 306h1v1h-1zM947 306h1v1h-1zM951 306h1v1h-1zM432 307h1v1h-1zM553 307h1v1h-1zM555 307h1v1h-1zM569 307h1v1h-1zM942 307h1v1h-1zM947 307h1v1h-1zM952 307h1v1h-1zM432 308h1v1h-1zM553 308h1v1h-1zM555 308h1v1h-1zM943 308h1v1h-1zM946 308h1v1h-1zM952 308h1v1h-1zM432 309h1v1h-1zM553 309h1v1h-1zM555 309h1v1h-1zM943 309h1v1h-1zM946 309h1v1h-1zM952 309h1v1h-1zM432 310h1v1h-1zM553 310h1v1h-1zM555 310h1v1h-1zM944 310h1v1h-1zM946 310h1v1h-1zM952 310h1v1h-1zM432 311h1v1h-1zM554 311h2v1h-2zM944 311h2v1h-2zM952 311h1v1h-1zM432 312h1v1h-1zM554 312h1v1h-1zM944 312h2v1h-2zM953 312h1v1h-1zM432 313h1v1h-1zM554 313h1v1h-1zM953 313h1v1h-1zM431 314h1v1h-1zM953 314h1v1h-1zM431 315h1v1h-1zM954 315h1v1h-1zM431 316h1v1h-1zM954 316h1v1h-1zM431 317h1v1h-1zM954 317h1v1h-1zM961 317h1v1h-1zM966 317h1v1h-1zM431 318h1v1h-1zM955 318h1v1h-1zM960 318h1v1h-1zM962 318h1v1h-1zM965 318h2v1h-2zM431 319h1v1h-1zM955 319h1v1h-1zM959 319h1v1h-1zM962 319h1v1h-1zM965 319h1v1h-1zM967 319h1v1h-1zM431 320h1v1h-1zM956 320h1v1h-1zM959 320h1v1h-1zM963 320h2v1h-2zM967 320h1v1h-1zM431 321h1v1h-1zM956 321h3v1h-3zM968 321h2v1h-2zM426 322h1v1h-1zM431 322h1v1h-1zM970 322h1v1h-1zM423 323h1v1h-1zM426 323h1v1h-1zM431 323h1v1h-1zM970 323h1v1h-1zM422 324h1v1h-1zM424 324h1v1h-1zM426 324h2v1h-2zM431 324h1v1h-1zM971 324h1v1h-1zM422 325h1v1h-1zM425 325h1v1h-1zM427 325h1v1h-1zM431 325h1v1h-1zM971 325h1v1h-1zM421 326h1v1h-1zM425 326h1v1h-1zM428 326h1v1h-1zM431 326h1v1h-1zM971 326h1v1h-1zM421 327h1v1h-1zM429 327h2v1h-2zM972 327h1v1h-1zM420 328h1v1h-1zM430 328h1v1h-1zM972 328h1v1h-1zM420 329h1v1h-1zM972 329h1v1h-1zM420 330h1v1h-1zM972 330h1v1h-1zM420 331h1v1h-1zM973 331h1v1h-1zM420 332h1v1h-1zM973 332h1v1h-1zM979 332h1v1h-1zM420 333h1v1h-1zM974 333h1v1h-1zM979 333h1v1h-1zM420 334h1v1h-1zM975 334h1v1h-1zM979 334h1v1h-1zM420 335h1v1h-1zM975 335h1v1h-1zM978 335h1v1h-1zM980 335h1v1h-1zM414 336h1v1h-1zM420 336h1v1h-1zM976 336h1v1h-1zM978 336h1v1h-1zM980 336h1v1h-1zM413 337h2v1h-2zM419 337h1v1h-1zM976 337h1v1h-1zM978 337h1v1h-1zM980 337h1v1h-1zM412 338h1v1h-1zM415 338h1v1h-1zM419 338h1v1h-1zM977 338h1v1h-1zM980 338h1v1h-1zM412 339h1v1h-1zM415 339h1v1h-1zM419 339h1v1h-1zM977 339h1v1h-1zM980 339h1v1h-1zM412 340h1v1h-1zM415 340h1v1h-1zM419 340h1v1h-1zM981 340h1v1h-1zM411 341h1v1h-1zM415 341h1v1h-1zM419 341h1v1h-1zM981 341h1v1h-1zM411 342h1v1h-1zM415 342h1v1h-1zM419 342h1v1h-1zM981 342h1v1h-1zM411 343h1v1h-1zM415 343h1v1h-1zM419 343h1v1h-1zM981 343h1v1h-1zM411 344h1v1h-1zM415 344h1v1h-1zM419 344h1v1h-1zM982 344h1v1h-1zM410 345h1v1h-1zM415 345h1v1h-1zM419 345h1v1h-1zM982 345h1v1h-1zM410 346h1v1h-1zM416 346h1v1h-1zM419 346h1v1h-1zM982 346h1v1h-1zM410 347h1v1h-1zM416 347h1v1h-1zM418 347h1v1h-1zM982 347h1v1h-1zM410 348h1v1h-1zM416 348h1v1h-1zM418 348h1v1h-1zM983 348h1v1h-1zM409 349h1v1h-1zM416 349h2v1h-2zM983 349h1v1h-1zM409 350h1v1h-1zM983 350h1v1h-1zM409 351h1v1h-1zM983 351h1v1h-1zM393 352h1v1h-1zM409 352h1v1h-1zM984 352h1v1h-1zM987 352h1v1h-1zM393 353h1v1h-1zM409 353h1v1h-1zM984 353h1v1h-1zM987 353h1v1h-1zM393 354h2v1h-2zM409 354h1v1h-1zM984 354h1v1h-1zM986 354h2v1h-2zM393 355h2v1h-2zM407 355h1v1h-1zM409 355h1v1h-1zM984 355h1v1h-1zM986 355h1v1h-1zM988 355h1v1h-1zM393 356h2v1h-2zM407 356h1v1h-1zM409 356h1v1h-1zM985 356h1v1h-1zM988 356h1v1h-1zM392 357h1v1h-1zM394 357h1v1h-1zM406 357h2v1h-2zM409 357h1v1h-1zM988 357h1v1h-1zM392 358h1v1h-1zM394 358h1v1h-1zM406 358h1v1h-1zM408 358h2v1h-2zM988 358h1v1h-1zM392 359h1v1h-1zM394 359h1v1h-1zM406 359h1v1h-1zM408 359h1v1h-1zM988 359h1v1h-1zM392 360h1v1h-1zM394 360h1v1h-1zM406 360h1v1h-1zM408 360h1v1h-1zM989 360h1v1h-1zM392 361h1v1h-1zM394 361h1v1h-1zM406 361h1v1h-1zM989 361h1v1h-1zM391 362h1v1h-1zM395 362h1v1h-1zM402 362h1v1h-1zM405 362h1v1h-1zM989 362h1v1h-1zM391 363h1v1h-1zM395 363h1v1h-1zM402 363h1v1h-1zM405 363h1v1h-1zM990 363h1v1h-1zM391 364h1v1h-1zM395 364h1v1h-1zM402 364h2v1h-2zM405 364h1v1h-1zM990 364h1v1h-1zM391 365h1v1h-1zM395 365h1v1h-1zM402 365h2v1h-2zM405 365h1v1h-1zM991 365h1v1h-1zM390 366h1v1h-1zM395 366h1v1h-1zM401 366h1v1h-1zM404 366h2v1h-2zM991 366h1v1h-1zM390 367h1v1h-1zM395 367h1v1h-1zM401 367h1v1h-1zM404 367h1v1h-1zM992 367h1v1h-1zM1010 367h2v1h-2zM388 368h2v1h-2zM395 368h1v1h-1zM401 368h1v1h-1zM992 368h1v1h-1zM1009 368h1v1h-1zM1012 368h1v1h-1zM387 369h1v1h-1zM396 369h1v1h-1zM401 369h1v1h-1zM993 369h1v1h-1zM1009 369h1v1h-1zM1012 369h1v1h-1zM387 370h1v1h-1zM396 370h1v1h-1zM400 370h1v1h-1zM994 370h1v1h-1zM1008 370h1v1h-1zM1012 370h1v1h-1zM387 371h1v1h-1zM396 371h1v1h-1zM400 371h1v1h-1zM994 371h1v1h-1zM1008 371h1v1h-1zM1013 371h1v1h-1zM387 372h1v1h-1zM397 372h1v1h-1zM399 372h1v1h-1zM994 372h1v1h-1zM1008 372h1v1h-1zM1013 372h1v1h-1zM387 373h1v1h-1zM397 373h1v1h-1zM399 373h1v1h-1zM995 373h1v1h-1zM1008 373h1v1h-1zM1013 373h1v1h-1zM386 374h1v1h-1zM397 374h1v1h-1zM399 374h1v1h-1zM995 374h1v1h-1zM1007 374h1v1h-1zM1014 374h1v1h-1zM386 375h1v1h-1zM398 375h2v1h-2zM995 375h1v1h-1zM1007 375h1v1h-1zM1014 375h1v1h-1zM386 376h1v1h-1zM398 376h1v1h-1zM995 376h1v1h-1zM1007 376h1v1h-1zM1015 376h3v1h-3zM386 377h1v1h-1zM398 377h1v1h-1zM996 377h1v1h-1zM1007 377h1v1h-1zM1017 377h1v1h-1zM383 378h2v1h-2zM386 378h1v1h-1zM996 378h1v1h-1zM1007 378h1v1h-1zM1017 378h1v1h-1zM383 379h1v1h-1zM385 379h1v1h-1zM997 379h1v1h-1zM1007 379h1v1h-1zM1017 379h1v1h-1zM383 380h1v1h-1zM385 380h1v1h-1zM998 380h1v1h-1zM1007 380h1v1h-1zM1018 380h1v1h-1zM383 381h1v1h-1zM998 381h1v1h-1zM1007 381h1v1h-1zM1018 381h1v1h-1zM382 382h1v1h-1zM998 382h1v1h-1zM1007 382h1v1h-1zM1018 382h1v1h-1zM382 383h1v1h-1zM999 383h1v1h-1zM1004 383h1v1h-1zM1006 383h1v1h-1zM1018 383h1v1h-1zM382 384h1v1h-1zM999 384h1v1h-1zM1003 384h2v1h-2zM1006 384h1v1h-1zM1018 384h1v1h-1zM382 385h1v1h-1zM999 385h1v1h-1zM1001 385h2v1h-2zM1005 385h1v1h-1zM1018 385h1v1h-1zM1022 385h1v1h-1zM1028 385h1v1h-1zM382 386h1v1h-1zM1000 386h1v1h-1zM1005 386h1v1h-1zM1019 386h1v1h-1zM1022 386h2v1h-2zM1028 386h1v1h-1zM381 387h1v1h-1zM1019 387h1v1h-1zM1022 387h2v1h-2zM1028 387h2v1h-2zM381 388h1v1h-1zM1019 388h1v1h-1zM1021 388h1v1h-1zM1024 388h1v1h-1zM1027 388h1v1h-1zM1029 388h1v1h-1zM381 389h1v1h-1zM1019 389h1v1h-1zM1021 389h1v1h-1zM1024 389h1v1h-1zM1027 389h1v1h-1zM1029 389h1v1h-1zM381 390h1v1h-1zM1019 390h1v1h-1zM1021 390h1v1h-1zM1025 390h1v1h-1zM1027 390h1v1h-1zM1029 390h1v1h-1zM381 391h1v1h-1zM1019 391h1v1h-1zM1021 391h1v1h-1zM1025 391h1v1h-1zM1027 391h1v1h-1zM1030 391h1v1h-1zM381 392h1v1h-1zM1020 392h1v1h-1zM1026 392h1v1h-1zM1030 392h1v1h-1zM380 393h1v1h-1zM1020 393h1v1h-1zM1026 393h1v1h-1zM1030 393h1v1h-1zM380 394h1v1h-1zM1020 394h1v1h-1zM1031 394h1v1h-1zM1034 394h1v1h-1zM380 395h1v1h-1zM1031 395h1v1h-1zM1034 395h1v1h-1zM380 396h1v1h-1zM1032 396h1v1h-1zM1034 396h1v1h-1zM379 397h1v1h-1zM1033 397h1v1h-1zM1035 397h1v1h-1zM379 398h1v1h-1zM1033 398h1v1h-1zM1035 398h1v1h-1zM379 399h1v1h-1zM1035 399h1v1h-1zM378 400h1v1h-1zM1036 400h1v1h-1zM378 401h1v1h-1zM378 402h1v1h-1zM378 403h1v1h-1zM378 404h1v1h-1zM378 405h1v1h-1zM378 406h1v1h-1zM378 407h1v1h-1zM377 408h1v1h-1zM377 409h1v1h-1zM377 410h1v1h-1zM377 411h1v1h-1zM377 412h1v1h-1zM376 413h1v1h-1zM376 414h1v1h-1zM376 415h1v1h-1zM375 416h1v1h-1zM375 417h1v1h-1zM375 418h1v1h-1zM375 419h1v1h-1zM374 420h1v1h-1zM374 421h1v1h-1zM374 422h1v1h-1zM374 423h1v1h-1zM373 424h1v1h-1zM373 425h1v1h-1zM373 426h1v1h-1zM372 427h1v1h-1zM372 428h1v1h-1zM372 429h1v1h-1zM372 430h1v1h-1zM371 431h1v1h-1zM371 432h1v1h-1zM371 433h1v1h-1zM370 434h1v1h-1zM370 435h1v1h-1zM370 436h1v1h-1zM370 437h1v1h-1zM370 438h1v1h-1zM369 439h1v1h-1zM369 440h1v1h-1zM366 441h3v1h-3zM365 442h1v1h-1zM365 443h1v1h-1zM365 444h1v1h-1zM364 445h1v1h-1zM364 446h1v1h-1zM364 447h1v1h-1zM364 448h1v1h-1zM364 449h1v1h-1zM363 450h1v1h-1zM363 451h1v1h-1zM363 452h1v1h-1zM363 453h1v1h-1zM363 454h1v1h-1zM362 455h1v1h-1zM362 456h1v1h-1zM362 457h1v1h-1zM362 458h1v1h-1zM361 459h1v1h-1zM361 460h1v1h-1zM361 461h1v1h-1zM360 462h1v1h-1zM360 463h1v1h-1zM359 464h1v1h-1zM359 465h1v1h-1zM359 466h1v1h-1zM358 467h1v1h-1zM358 468h1v1h-1zM358 469h1v1h-1zM358 470h1v1h-1zM358 471h1v1h-1zM357 472h1v1h-1zM357 473h1v1h-1zM357 474h1v1h-1zM355 475h2v1h-2zM354 476h1v1h-1zM354 477h1v1h-1zM354 478h1v1h-1zM354 479h1v1h-1zM353 480h1v1h-1zM353 481h1v1h-1zM353 482h1v1h-1zM353 483h1v1h-1zM352 484h1v1h-1zM352 485h1v1h-1zM351 486h1v1h-1zM351 487h1v1h-1zM351 488h1v1h-1zM350 489h1v1h-1zM350 490h1v1h-1zM350 491h1v1h-1zM349 492h1v1h-1zM349 493h1v1h-1zM349 494h1v1h-1zM349 495h1v1h-1zM349 496h1v1h-1zM348 497h1v1h-1zM348 498h1v1h-1zM348 499h1v1h-1zM348 500h1v1h-1zM348 501h1v1h-1zM347 502h1v1h-1zM347 503h1v1h-1zM347 504h1v1h-1zM347 505h1v1h-1zM347 506h1v1h-1zM347 507h1v1h-1zM342 508h1v1h-1zM346 508h1v1h-1zM341 509h1v1h-1zM343 509h1v1h-1zM346 509h1v1h-1zM341 510h1v1h-1zM343 510h1v1h-1zM346 510h1v1h-1zM340 511h1v1h-1zM343 511h1v1h-1zM346 511h1v1h-1zM340 512h1v1h-1zM343 512h1v1h-1zM346 512h1v1h-1zM340 513h1v1h-1zM344 513h1v1h-1zM346 513h1v1h-1zM339 514h1v1h-1zM344 514h1v1h-1zM346 514h1v1h-1zM339 515h1v1h-1zM344 515h1v1h-1zM346 515h1v1h-1zM339 516h1v1h-1zM344 516h1v1h-1zM346 516h1v1h-1zM339 517h1v1h-1zM344 517h1v1h-1zM346 517h1v1h-1zM339 518h1v1h-1zM344 518h1v1h-1zM346 518h1v1h-1zM339 519h1v1h-1zM345 519h2v1h-2zM339 520h1v1h-1zM345 520h2v1h-2zM338 521h1v1h-1zM345 521h1v1h-1zM338 522h1v1h-1zM345 522h1v1h-1zM338 523h1v1h-1zM338 524h1v1h-1zM338 525h1v1h-1zM338 526h1v1h-1zM338 527h1v1h-1zM338 528h1v1h-1zM337 529h1v1h-1zM337 530h1v1h-1zM276 531h1v1h-1zM337 531h1v1h-1zM276 532h1v1h-1zM337 532h1v1h-1zM276 533h2v1h-2zM337 533h1v1h-1zM276 534h2v1h-2zM337 534h1v1h-1zM275 535h1v1h-1zM277 535h1v1h-1zM337 535h1v1h-1zM275 536h1v1h-1zM277 536h1v1h-1zM337 536h1v1h-1zM275 537h1v1h-1zM277 537h1v1h-1zM336 537h1v1h-1zM275 538h1v1h-1zM278 538h1v1h-1zM336 538h1v1h-1zM264 539h1v1h-1zM275 539h1v1h-1zM278 539h1v1h-1zM336 539h1v1h-1zM264 540h1v1h-1zM270 540h2v1h-2zM275 540h1v1h-1zM278 540h1v1h-1zM336 540h1v1h-1zM263 541h2v1h-2zM270 541h2v1h-2zM275 541h1v1h-1zM278 541h1v1h-1zM300 541h1v1h-1zM336 541h1v1h-1zM263 542h1v1h-1zM265 542h1v1h-1zM269 542h1v1h-1zM271 542h1v1h-1zM274 542h1v1h-1zM279 542h1v1h-1zM300 542h1v1h-1zM336 542h1v1h-1zM263 543h1v1h-1zM265 543h1v1h-1zM269 543h1v1h-1zM272 543h1v1h-1zM274 543h1v1h-1zM279 543h1v1h-1zM300 543h1v1h-1zM336 543h1v1h-1zM263 544h1v1h-1zM265 544h1v1h-1zM269 544h1v1h-1zM272 544h1v1h-1zM274 544h1v1h-1zM280 544h1v1h-1zM300 544h2v1h-2zM336 544h1v1h-1zM262 545h1v1h-1zM266 545h1v1h-1zM269 545h1v1h-1zM272 545h1v1h-1zM274 545h1v1h-1zM280 545h1v1h-1zM290 545h2v1h-2zM300 545h2v1h-2zM336 545h1v1h-1zM262 546h1v1h-1zM266 546h1v1h-1zM268 546h1v1h-1zM272 546h1v1h-1zM274 546h1v1h-1zM280 546h1v1h-1zM282 546h2v1h-2zM289 546h1v1h-1zM291 546h1v1h-1zM299 546h1v1h-1zM301 546h1v1h-1zM335 546h1v1h-1zM262 547h1v1h-1zM267 547h2v1h-2zM273 547h1v1h-1zM280 547h1v1h-1zM282 547h2v1h-2zM289 547h1v1h-1zM292 547h1v1h-1zM294 547h1v1h-1zM299 547h1v1h-1zM301 547h1v1h-1zM335 547h1v1h-1zM262 548h1v1h-1zM273 548h1v1h-1zM280 548h1v1h-1zM282 548h2v1h-2zM289 548h1v1h-1zM292 548h1v1h-1zM294 548h1v1h-1zM299 548h1v1h-1zM302 548h1v1h-1zM335 548h1v1h-1zM261 549h1v1h-1zM280 549h1v1h-1zM282 549h2v1h-2zM289 549h1v1h-1zM293 549h2v1h-2zM299 549h1v1h-1zM302 549h1v1h-1zM335 549h1v1h-1zM261 550h1v1h-1zM281 550h2v1h-2zM284 550h1v1h-1zM289 550h1v1h-1zM293 550h1v1h-1zM295 550h1v1h-1zM299 550h1v1h-1zM302 550h1v1h-1zM335 550h1v1h-1zM261 551h1v1h-1zM281 551h1v1h-1zM284 551h1v1h-1zM288 551h1v1h-1zM295 551h1v1h-1zM299 551h1v1h-1zM303 551h1v1h-1zM335 551h1v1h-1zM259 552h1v1h-1zM261 552h1v1h-1zM281 552h1v1h-1zM284 552h1v1h-1zM288 552h1v1h-1zM295 552h1v1h-1zM299 552h1v1h-1zM303 552h1v1h-1zM307 552h1v1h-1zM313 552h1v1h-1zM335 552h1v1h-1zM259 553h1v1h-1zM261 553h1v1h-1zM281 553h1v1h-1zM284 553h1v1h-1zM288 553h1v1h-1zM295 553h1v1h-1zM299 553h1v1h-1zM303 553h1v1h-1zM307 553h1v1h-1zM313 553h2v1h-2zM335 553h1v1h-1zM258 554h1v1h-1zM260 554h1v1h-1zM281 554h1v1h-1zM284 554h1v1h-1zM288 554h1v1h-1zM295 554h1v1h-1zM299 554h1v1h-1zM303 554h1v1h-1zM307 554h1v1h-1zM313 554h1v1h-1zM315 554h2v1h-2zM335 554h1v1h-1zM258 555h1v1h-1zM260 555h1v1h-1zM285 555h1v1h-1zM288 555h1v1h-1zM296 555h1v1h-1zM298 555h1v1h-1zM304 555h1v1h-1zM307 555h2v1h-2zM313 555h1v1h-1zM316 555h1v1h-1zM335 555h1v1h-1zM256 556h2v1h-2zM285 556h1v1h-1zM288 556h1v1h-1zM296 556h1v1h-1zM298 556h1v1h-1zM304 556h1v1h-1zM306 556h1v1h-1zM308 556h1v1h-1zM312 556h1v1h-1zM316 556h1v1h-1zM334 556h1v1h-1zM255 557h1v1h-1zM285 557h1v1h-1zM288 557h1v1h-1zM296 557h1v1h-1zM298 557h1v1h-1zM304 557h1v1h-1zM306 557h1v1h-1zM308 557h1v1h-1zM312 557h1v1h-1zM316 557h1v1h-1zM333 557h1v1h-1zM255 558h1v1h-1zM285 558h1v1h-1zM287 558h1v1h-1zM296 558h1v1h-1zM298 558h1v1h-1zM304 558h1v1h-1zM306 558h1v1h-1zM309 558h1v1h-1zM312 558h1v1h-1zM316 558h1v1h-1zM332 558h1v1h-1zM254 559h1v1h-1zM286 559h2v1h-2zM296 559h1v1h-1zM298 559h1v1h-1zM304 559h1v1h-1zM306 559h1v1h-1zM309 559h2v1h-2zM312 559h1v1h-1zM316 559h1v1h-1zM329 559h1v1h-1zM331 559h1v1h-1zM254 560h1v1h-1zM286 560h2v1h-2zM297 560h2v1h-2zM304 560h1v1h-1zM306 560h1v1h-1zM310 560h1v1h-1zM312 560h1v1h-1zM317 560h1v1h-1zM329 560h2v1h-2zM254 561h1v1h-1zM286 561h1v1h-1zM297 561h1v1h-1zM305 561h1v1h-1zM311 561h1v1h-1zM317 561h1v1h-1zM328 561h1v1h-1zM254 562h1v1h-1zM297 562h1v1h-1zM305 562h1v1h-1zM311 562h1v1h-1zM317 562h1v1h-1zM328 562h1v1h-1zM253 563h1v1h-1zM305 563h1v1h-1zM317 563h1v1h-1zM325 563h1v1h-1zM328 563h1v1h-1zM253 564h1v1h-1zM317 564h1v1h-1zM324 564h2v1h-2zM327 564h1v1h-1zM253 565h1v1h-1zM318 565h1v1h-1zM322 565h2v1h-2zM326 565h2v1h-2zM253 566h1v1h-1zM318 566h1v1h-1zM322 566h1v1h-1zM326 566h1v1h-1zM252 567h1v1h-1zM318 567h1v1h-1zM321 567h1v1h-1zM252 568h1v1h-1zM318 568h1v1h-1zM321 568h1v1h-1zM252 569h1v1h-1zM318 569h1v1h-1zM321 569h1v1h-1zM251 570h1v1h-1zM319 570h1v1h-1zM321 570h1v1h-1zM251 571h1v1h-1zM319 571h1v1h-1zM321 571h1v1h-1zM250 572h1v1h-1zM319 572h1v1h-1zM321 572h1v1h-1zM250 573h1v1h-1zM319 573h1v1h-1zM321 573h1v1h-1zM250 574h1v1h-1zM319 574h1v1h-1zM321 574h1v1h-1zM249 575h1v1h-1zM319 575h1v1h-1zM321 575h1v1h-1zM249 576h1v1h-1zM320 576h1v1h-1zM249 577h1v1h-1zM320 577h1v1h-1zM249 578h1v1h-1zM320 578h1v1h-1zM248 579h1v1h-1zM320 579h1v1h-1zM248 580h1v1h-1zM247 581h1v1h-1zM247 582h1v1h-1zM246 583h1v1h-1zM246 584h1v1h-1zM246 585h1v1h-1zM245 586h1v1h-1zM245 587h1v1h-1zM244 588h1v1h-1zM244 589h1v1h-1zM244 590h1v1h-1zM243 591h1v1h-1zM243 592h1v1h-1zM242 593h1v1h-1zM242 594h1v1h-1zM241 595h1v1h-1zM241 596h1v1h-1zM241 597h1v1h-1zM241 598h1v1h-1zM240 599h1v1h-1zM240 600h1v1h-1zM240 601h1v1h-1zM240 602h1v1h-1zM239 603h1v1h-1zM237 604h1v1h-1zM239 604h1v1h-1zM237 605h1v1h-1zM239 605h1v1h-1zM236 606h1v1h-1zM238 606h2v1h-2zM236 607h1v1h-1zM238 607h1v1h-1zM236 608h1v1h-1zM238 608h1v1h-1zM235 609h1v1h-1zM235 610h1v1h-1zM235 611h1v1h-1zM235 612h1v1h-1zM234 613h1v1h-1zM234 614h1v1h-1zM234 615h1v1h-1zM234 616h1v1h-1zM233 617h1v1h-1zM233 618h1v1h-1zM232 619h1v1h-1zM231 620h1v1h-1zM231 621h1v1h-1zM231 622h1v1h-1zM230 623h1v1h-1zM230 624h1v1h-1zM230 625h1v1h-1zM230 626h1v1h-1zM230 627h1v1h-1zM229 628h1v1h-1zM229 629h1v1h-1zM229 630h1v1h-1zM229 631h1v1h-1zM229 632h1v1h-1zM228 633h1v1h-1zM228 634h1v1h-1zM228 635h1v1h-1zM227 636h1v1h-1zM227 637h1v1h-1zM226 638h1v1h-1zM226 639h1v1h-1zM225 640h1v1h-1zM225 641h1v1h-1zM220 642h1v1h-1zM225 642h1v1h-1zM220 643h1v1h-1zM225 643h1v1h-1zM220 644h2v1h-2zM224 644h1v1h-1zM220 645h2v1h-2zM224 645h1v1h-1zM219 646h1v1h-1zM221 646h1v1h-1zM224 646h1v1h-1zM219 647h1v1h-1zM221 647h1v1h-1zM224 647h1v1h-1zM219 648h1v1h-1zM222 648h2v1h-2zM219 649h1v1h-1zM222 649h2v1h-2zM219 650h1v1h-1zM219 651h1v1h-1zM218 652h1v1h-1zM218 653h1v1h-1zM218 654h1v1h-1zM218 655h1v1h-1zM218 656h1v1h-1zM217 657h1v1h-1zM216 658h2v1h-2zM215 659h1v1h-1zM214 660h1v1h-1zM213 661h1v1h-1zM213 662h1v1h-1zM213 663h1v1h-1zM212 664h1v1h-1zM212 665h1v1h-1zM212 666h1v1h-1zM212 667h1v1h-1zM211 668h1v1h-1zM210 669h2v1h-2zM209 670h1v1h-1zM209 671h1v1h-1zM208 672h1v1h-1zM208 673h1v1h-1zM208 674h1v1h-1zM208 675h1v1h-1zM207 676h1v1h-1zM207 677h1v1h-1zM207 678h1v1h-1zM206 679h1v1h-1zM206 680h1v1h-1zM206 681h1v1h-1zM205 682h1v1h-1zM205 683h1v1h-1zM205 684h1v1h-1zM205 685h1v1h-1zM205 686h1v1h-1zM199 687h1v1h-1zM203 687h1v1h-1zM205 687h1v1h-1zM199 688h1v1h-1zM203 688h2v1h-2zM199 689h2v1h-2zM203 689h2v1h-2zM198 690h1v1h-1zM200 690h1v1h-1zM202 690h1v1h-1zM204 690h1v1h-1zM198 691h1v1h-1zM201 691h2v1h-2zM198 692h1v1h-1zM202 692h1v1h-1zM197 693h1v1h-1zM196 694h1v1h-1zM196 695h1v1h-1zM195 696h1v1h-1zM195 697h1v1h-1zM194 698h1v1h-1zM194 699h1v1h-1zM194 700h1v1h-1zM194 701h1v1h-1zM194 702h1v1h-1zM194 703h1v1h-1zM194 704h1v1h-1zM194 705h1v1h-1zM193 706h1v1h-1zM193 707h1v1h-1zM193 708h1v1h-1zM193 709h1v1h-1zM193 710h1v1h-1zM193 711h1v1h-1zM192 712h2v1h-2zM191 713h1v1h-1zM190 714h1v1h-1zM187 715h2v1h-2zM190 715h1v1h-1zM187 716h1v1h-1zM189 716h1v1h-1zM186 717h1v1h-1zM186 718h1v1h-1zM186 719h1v1h-1zM185 720h1v1h-1zM184 721h1v1h-1zM184 722h1v1h-1zM183 723h1v1h-1zM183 724h1v1h-1zM183 725h1v1h-1zM183 726h1v1h-1zM182 727h1v1h-1zM182 728h1v1h-1zM182 729h1v1h-1zM182 730h1v1h-1zM182 731h1v1h-1zM181 732h1v1h-1zM180 733h1v1h-1zM179 734h1v1h-1z"/>
</g>
<g font-family="Liberation Sans, sans-serif" font-size="23" fill="#000" text-rendering="geometricPrecision" opacity="0.999">
<text transform="translate(156.5,826) scale(0.932608695652174,0.9948)" text-anchor="middle">5</text>
<text transform="translate(218.5,826) scale(0.932608695652174,0.9948)" text-anchor="middle">6</text>
<text transform="translate(280.5,826) scale(0.932608695652174,0.9948)" text-anchor="middle">7</text>
<text transform="translate(342.5,826) scale(0.932608695652174,0.9948)" text-anchor="middle">8</text>
<text transform="translate(404.5,826) scale(0.932608695652174,0.9948)" text-anchor="middle">9</text>
<text transform="translate(466.5,826) scale(0.932608695652174,0.9948)" text-anchor="middle">10</text>
<text transform="translate(528.5,826) scale(0.932608695652174,0.9948)" text-anchor="middle">11</text>
<text transform="translate(590.5,826) scale(0.932608695652174,0.9948)" text-anchor="middle">12</text>
<text transform="translate(652.5,826) scale(0.932608695652174,0.9948)" text-anchor="middle">13</text>
<text transform="translate(714.5,826) scale(0.932608695652174,0.9948)" text-anchor="middle">14</text>
<text transform="translate(776.5,826) scale(0.932608695652174,0.9948)" text-anchor="middle">15</text>
<text transform="translate(838.5,826) scale(0.932608695652174,0.9948)" text-anchor="middle">16</text>
<text transform="translate(900.5,826) scale(0.932608695652174,0.9948)" text-anchor="middle">17</text>
<text transform="translate(962.5,826) scale(0.932608695652174,0.9948)" text-anchor="middle">18</text>
<text transform="translate(1024.5,826) scale(0.932608695652174,0.9948)" text-anchor="middle">19</text>
<text transform="translate(1086.5,826) scale(0.932608695652174,0.9948)" text-anchor="middle">20</text>
<text transform="translate(150,758) scale(0.932608695652174,0.9948)" text-anchor="end">298</text>
<text transform="translate(150,668) scale(0.932608695652174,0.9948)" text-anchor="end">300</text>
<text transform="translate(150,579) scale(0.932608695652174,0.9948)" text-anchor="end">302</text>
<text transform="translate(150,489) scale(0.932608695652174,0.9948)" text-anchor="end">304</text>
<text transform="translate(150,399) scale(0.932608695652174,0.9948)" text-anchor="end">306</text>
<text transform="translate(150,310) scale(0.932608695652174,0.9948)" text-anchor="end">308</text>
<text transform="translate(150,220) scale(0.932608695652174,0.9948)" text-anchor="end">310</text>
<text transform="translate(150,131) scale(0.932608695652174,0.9948)" text-anchor="end">312</text>
<text transform="translate(620,51) scale(0.932608695652174,0.9948)" text-anchor="middle">20060809</text>
<text transform="translate(620.5,853) scale(0.9440869565217391,0.9948)" text-anchor="middle">Local Time (decimal hours)</text>
<text transform="translate(100.8,434.6) rotate(-90) scale(0.9450,0.9565)" text-anchor="middle">Temperature (K)</text>
</g>
<g font-family="Liberation Sans, sans-serif" text-rendering="geometricPrecision" opacity="0.999">
<text transform="translate(172.2,144) scale(0.9,1.03)" font-size="22" fill="#0000c8">T</text>
<text transform="translate(185.6,154) scale(0.72,1.0)" font-size="18.5" font-weight="bold" fill="#0000c8">c</text>
<text transform="translate(172.2,180) scale(0.9,1.03)" font-size="22" fill="#c40a10">T</text>
<text transform="translate(185.3,190) scale(0.86,1.0)" font-size="18" font-weight="bold" fill="#c40a10">d</text>
</g>
</svg></body></html>
